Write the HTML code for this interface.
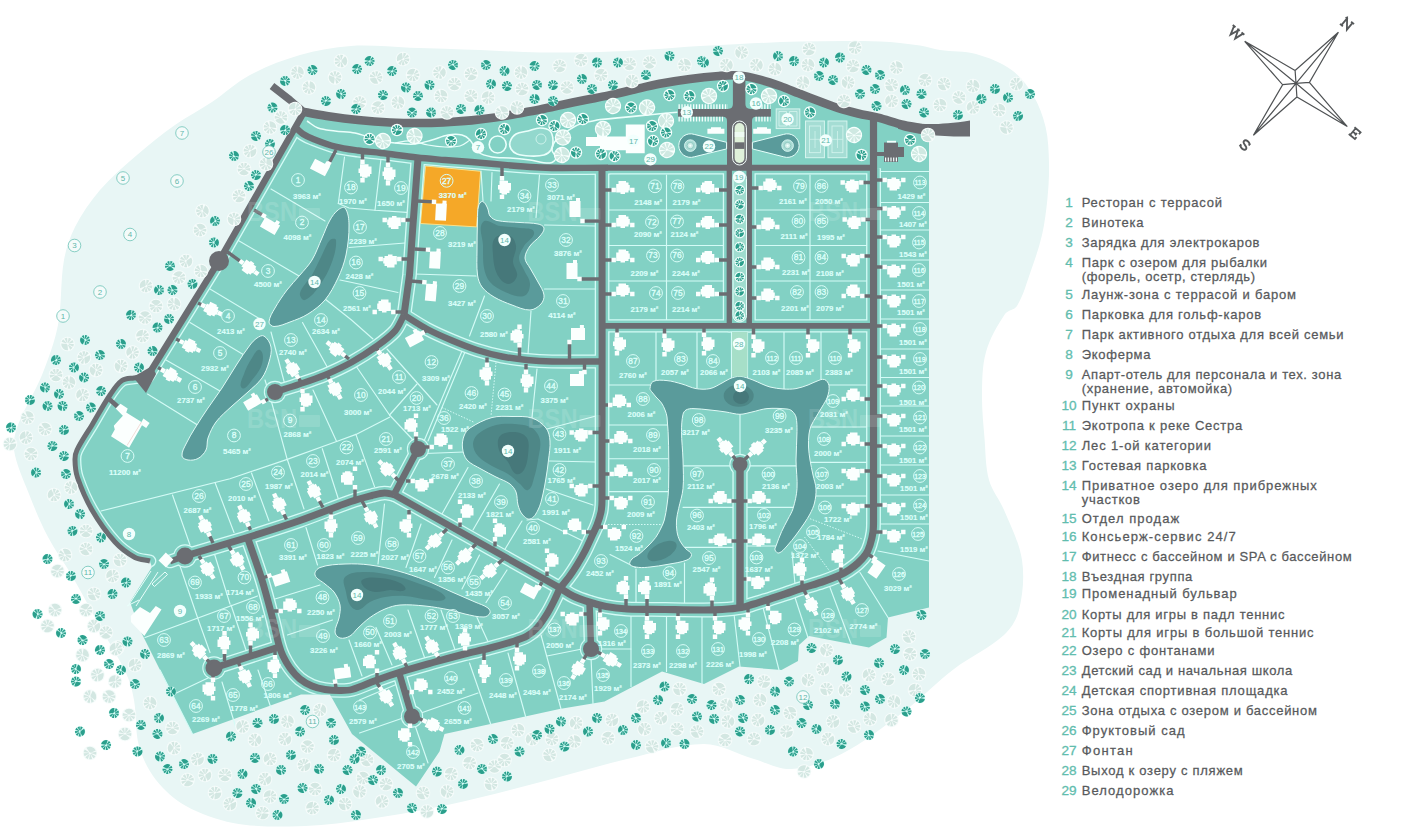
<!DOCTYPE html><html><head><meta charset="utf-8"><title>Map</title><style>html,body{margin:0;padding:0;background:#fff}svg{display:block}text{font-family:"Liberation Sans",sans-serif}</style></head><body>
<svg width="1410" height="839" viewBox="0 0 1410 839">
<rect width="1410" height="839" fill="#fff"/>
<path d="M351 46 C333.9 47.1 316.4 50.3 300 55 C282.9 59.9 265.7 66.6 250 75 C236.4 82.2 224.8 93.5 212 102 C200 110 186.7 116.7 175 125 C162 134.2 149.1 144.5 137 155 C124.3 166 111 177.3 100 190 C90.4 201.2 81.7 213.9 75 227 C69.8 237.2 66 248.7 64 260 C60.3 281.2 62 303.8 58 325 C54.7 342 48.4 358.9 42 375 C35.2 392 24.4 407.9 18 425 C15.1 432.8 12.7 441.7 14 450 C16.4 465.1 23.4 479.7 29 494 C34.6 508.4 40.8 523.3 48 537 C54.9 550.1 64.1 562.3 71.5 575 C81.3 591.8 90.6 609.5 100 626.5 C108.5 641.9 118.6 657 126 673 C129.9 681.4 132.4 690.9 134 700 C136.7 715 135 731.3 139 746 C142.3 758.1 148.3 770.1 156 780 C164.1 790.3 174.6 799.6 186 806 C200.4 814 216.8 819.8 233 823 C251.5 826.6 271.2 826.7 290 826.5 C310.5 826.2 331.7 824.3 352 821.5 C385.2 816.9 419.2 811 452 804 C485.3 796.9 519.1 787.5 552 779 C576.8 772.6 602 764.7 627 759 C652.2 753.2 678.1 744 704 744 C721.2 744 737.4 754.3 754 759 C766.3 762.5 778.7 769.7 791.5 769 C808.7 768 826.2 761.8 841.5 754 C863.7 742.6 884.1 726.5 904 711.5 C921.3 698.4 936.8 682.2 954 669 C969.8 656.9 989.2 648.4 1004 635 C1011.1 628.5 1016.8 619.4 1019 610 C1022.9 593.9 1024.5 576.3 1022 560 C1019.4 542.7 1010.7 526.2 1004 510 C999.8 499.8 991.9 490.7 989 480 C985.4 466.5 985.6 451.9 984.5 438 C983.3 423.8 981.8 409.2 982 395 C982.2 380.8 982.1 365.7 986 352 C989.8 338.5 997.2 325.6 1005 314 C1007.7 310.1 1014.6 310.1 1017 306 C1023.5 295.2 1026.8 282.4 1031 270.5 C1035.1 258.9 1039.3 247 1042 235 C1044.7 223.3 1046.2 211 1047.4 199 C1048.6 187.2 1049.3 174.9 1049 163 C1048.7 151.1 1048.3 138.6 1045.6 127 C1043 116 1038.8 104.7 1033 95 C1027.4 85.7 1020.4 76.3 1011.6 70 C1001.1 62.5 988.4 57.5 976 54 C964.5 50.8 951.8 51.8 940 50 C933.3 49 926.7 46.4 920 45.5 C906.9 43.6 893.3 41.9 880 41.5 C853.6 40.6 826.4 41 800 41.5 C780.2 41.9 759.8 43.1 740 44 C726.8 44.6 713.2 45.2 700 46 C683.5 47 666.5 48.5 650 49.5 C633.5 50.5 616.5 51.5 600 52 C580.2 52.5 559.8 52.8 540 52.5 C520.2 52.2 499.8 50.7 480 50 C456.9 49.1 433.1 48.4 410 47.7 C390.5 47.1 370.4 44.7 351 46Z" fill="#e8f6f5"/>
<path d="M304 112 L330 116.5 L358 120 L390 122.5 L426 123 L450 122 L471.6 120.4 L495 117.5 L517 113.8 L540 109.5 L562.4 104.7 L585 100 L607.8 95.6 L630 90.5 L659.6 83.8 L690 79 L719 76 L739 75.5 L758.9 79.4 L780 86 L798.6 93.3 L820 101.5 L838.3 108.2 L858 113.5 L878 117.6 L904 125 L929 129.5 L929 607.5 L888 617.5 L886.5 637.5 L869 647.5 L809 636 L799 645 L798 661 L781.5 670 L739 666.5 L704 684 L662 671.5 L604.5 701.5 L559.5 709 L444.5 734 L439.5 751.5 L416 786.5 L352 734 L330 694.5 L301 694.5 L192.5 734 L160 670 L141 632 L130 602 L152 567 L150 561 C145.1 559.8 139.5 559.9 135 557.5 C127.7 553.5 120.6 548.2 115 542 C106.3 532.4 98.5 521.2 92 510 C86.1 499.8 81.3 488.6 77.5 477.5 C75.6 472 75.1 465.8 75 460 C74.9 456.6 75.5 453 77 450 C81.2 441.3 87 433.2 92 425 C97.9 415.1 103.5 404.6 110 395 C113.5 389.8 116.9 384.1 122 380.5 C125.3 378.2 130 378.6 134 378 C138.3 377.4 142.7 377.3 147 377 L219 261 L304 112Z" fill="#82d1c4"/>
<path d="M425.5 166 L480.6 171.3 L476.6 226.9 L420.5 223.5Z" fill="#f5a828" stroke="#fbe08a" stroke-width="1"/>
<defs><clipPath id="cp"><path d="M296 128 L303 134 L312.7 138.8 L335.4 146.7 L358 150.5 L380.8 153 L417 157.5 L445 160 L471.6 162 L517 166 L540 167.5 L562.4 168 L607.8 167.7 L873.5 168.3 L929 168.3 L929 607.5 L888 617.5 L886.5 637.5 L869 647.5 L809 636 L799 645 L798 661 L781.5 670 L739 666.5 L704 684 L662 671.5 L604.5 701.5 L559.5 709 L444.5 734 L439.5 751.5 L416 786.5 L352 734 L330 694.5 L301 694.5 L192.5 734 L160 670 L141 632 L130 602 L152 567 L150 561 C145.1 559.8 139.5 559.9 135 557.5 C127.7 553.5 120.6 548.2 115 542 C106.3 532.4 98.5 521.2 92 510 C86.1 499.8 81.3 488.6 77.5 477.5 C75.6 472 75.1 465.8 75 460 C74.9 456.6 75.5 453 77 450 C81.2 441.3 87 433.2 92 425 C97.9 415.1 103.5 404.6 110 395 C113.5 389.8 116.9 384.1 122 380.5 C125.3 378.2 130 378.6 134 378 C138.3 377.4 142.7 377.3 147 377 L219 261Z"/></clipPath></defs><g fill="none" stroke="#d4fbf6" stroke-width="1.15" stroke-linecap="round"><path d="M271 189 L325 221"/><path d="M237.5 240 L299 276"/><path d="M344.5 157 L338.3 203.5"/><path d="M380.8 160.4 L375 210.3"/><path d="M338.3 203.5 L349 208 L375 210.3 L410.3 212.6"/><path d="M349 247.5 L405 243"/><path d="M340 280 L352 282.5 L398 292.5"/><path d="M325 299 L351.5 320 L373 339"/><path d="M210 289 L260 319"/><path d="M190 322.5 L244 355"/><path d="M166 360 L220 391"/><path d="M147.5 394 L197.5 425 L205 433"/><path d="M302.5 322.5 L327.5 367.5"/><path d="M271 332 L285 385"/><path d="M265 380 L271 400 L287.2 459.4"/><path d="M313 390 L336.6 441.5"/><path d="M101 511 L230 478.7 L287.2 459.4 L336.6 441.5 L356 434.4 L389.5 417.2"/><path d="M172.5 495 L190 545"/><path d="M215 482.5 L234 532.5"/><path d="M251.5 473 L269 521"/><path d="M287.5 460 L304 509"/><path d="M322.3 448.7 L338.7 500"/><path d="M357 367.5 L389.5 415"/><path d="M387 349 L437 405"/><path d="M417 384 L389.5 415"/><path d="M389.5 415 L413 440"/><path d="M355.9 434.4 L374.5 486.6"/><path d="M425 453.5 L464 452"/><path d="M462 351 L424.5 440"/><path d="M465 352 L428 441"/><path d="M537 369 L532 417.5"/><path d="M547 429 L596 416"/><path d="M492 172.5 L491 201"/><path d="M539.5 175 L536 217.5"/><path d="M544.5 225 L596 226"/><path d="M414.5 274 L476 276"/><path d="M484.5 296 L469.5 336"/><path d="M531 311 L528 354"/><path d="M544.5 289 L596 289"/><path d="M481 171 L483 201"/><path d="M666.5 175 L666.5 320"/><path d="M608 210 L725 210"/><path d="M608 245.5 L725 245.5"/><path d="M608 281 L725 281"/><path d="M810 175 L810 320"/><path d="M752.5 210 L868 210"/><path d="M752.5 245.5 L868 245.5"/><path d="M752.5 281 L868 281"/><path d="M878 171.5 L929 171.5"/><path d="M878 202.5 L929 202.5"/><path d="M878 230 L929 230"/><path d="M878 260 L929 260"/><path d="M878 290 L929 290"/><path d="M878 319 L929 319"/><path d="M878 349 L929 349"/><path d="M878 377.5 L929 377.5"/><path d="M878 406 L929 406"/><path d="M878 436 L929 436"/><path d="M878 465 L929 465"/><path d="M878 495 L929 495"/><path d="M878 524 L929 524"/><path d="M878 551 L929 561"/><path d="M656 332 L656 385"/><path d="M697 332 L697 388"/><path d="M731.5 332 L731.5 380"/><path d="M747.5 332 L747.5 380"/><path d="M784 332 L784 389"/><path d="M821 332 L821 383"/><path d="M608 385 L652 385"/><path d="M608 425 L668 425"/><path d="M608 458.7 L668 458.7"/><path d="M608 491.6 L668 491.6"/><path d="M828 385 L868 385"/><path d="M812 427 L868 427"/><path d="M810 462.4 L868 462.4"/><path d="M816 496 L868 496"/><path d="M683 465.8 L733 465.8"/><path d="M683 507.3 L735 507.3"/><path d="M685 547.3 L735 547.3"/><path d="M746 465.8 L796 465.8"/><path d="M746 507.3 L793 507.3"/><path d="M746 546 L776 546"/><path d="M740 414 L740 456"/><path d="M610 554.5 L635.7 567.4"/><path d="M636 569 L636 603"/><path d="M684.5 563 L684.5 603"/><path d="M792 552 L796 595"/><path d="M468 467.5 L442 514"/><path d="M499.5 484 L473 530"/><path d="M522 521 L504.5 550"/><path d="M538 519 L583 541"/><path d="M546 489 L593 505"/><path d="M549.5 461 L596 462"/><path d="M527 520 L538 519"/><path d="M384.5 504 L378 564"/><path d="M421 524 L406 567.5"/><path d="M452 540 L434.5 577.5"/><path d="M479.5 555 L462 589"/><path d="M507 570 L486 602.5"/><path d="M306 527.5 L317.5 565"/><path d="M275 599 L320 585"/><path d="M287.5 635 L332.5 620"/><path d="M376 627.5 L392 665"/><path d="M408 610 L424.5 657.5"/><path d="M441 610 L456 652.5"/><path d="M477 617.5 L489.5 645"/><path d="M349 640 L362 676"/><path d="M214 552.5 L230 604"/><path d="M180 566 L197.5 617.5 L210 652.5"/><path d="M145 637.5 L257.5 596"/><path d="M231 605 L246 650"/><path d="M192.5 734 L160 670"/><path d="M170 696 L208 678"/><path d="M222 682 L236 728"/><path d="M258 670 L271 708"/><path d="M402 682 L359.5 700"/><path d="M421 713 L478 693"/><path d="M469.5 663 L491 725"/><path d="M508 653 L526 718"/><path d="M541 635 L561 709"/><path d="M591 656.5 L593 704"/><path d="M359.5 733 L403 718"/><path d="M414.5 724 L428 763"/><path d="M547 656 L582 649"/><path d="M599.5 649 L631 649"/><path d="M631 615 L631 686.5"/><path d="M666.5 615 L666.5 671.5"/><path d="M702 615 L702 684"/><path d="M734 614 L740 666.5"/><path d="M763 607.5 L779 670"/><path d="M795 597.5 L808 637.5"/><path d="M830 587.5 L851.5 645"/><path d="M860 572.5 L888 617.5"/></g><g fill="none" stroke="#d4fbf6" stroke-width="1" stroke-dasharray="1.5 1.5"><path d="M496 362.5 L491 416"/><path d="M442 407.5 L474.5 422.5"/><path d="M608 524.5 L664 524.5"/><path d="M810 518.7 L861.7 538.8"/><path d="M804.5 537 L830 571.6"/></g><g clip-path="url(#cp)" fill="none" stroke-linejoin="round" stroke-linecap="round"><g stroke="#d4fbf6"><path d="M304 112 L219 261 L147 377" stroke-width="14.2"/><path d="M147 377 C142.7 377.3 138.3 377.4 134 378 C130 378.6 125.3 378.2 122 380.5 C116.9 384.1 113.5 389.8 110 395 C103.5 404.6 97.9 415.1 92 425 C87 433.2 81.2 441.3 77 450 C75.5 453 74.9 456.6 75 460 C75.1 465.8 75.6 472 77.5 477.5 C81.3 488.6 86.1 499.8 92 510 C98.5 521.2 106.3 532.4 115 542 C120.6 548.2 127.7 553.5 135 557.5 C139.5 559.9 145.1 559.8 150 561" stroke-width="12.7"/><path d="M296 128 C298.3 130 300.4 132.3 303 134 C306 135.9 309.4 137.5 312.7 138.8 C320.1 141.7 327.7 144.7 335.4 146.7 C342.7 148.6 350.5 149.5 358 150.5 C365.5 151.5 373.3 152.1 380.8 153 C392.8 154.4 405 156.2 417 157.5 C426.2 158.5 435.8 159.2 445 160 C453.8 160.7 462.8 161.3 471.6 162 C486.6 163.2 502 164.8 517 166 C524.6 166.6 532.4 167.2 540 167.5 C547.4 167.8 555 168 562.4 168 C577.4 168 592.8 167.8 607.8 167.7" stroke-width="14.1"/><path d="M607 167.7 L873.5 167.7" stroke-width="13.6"/><path d="M418 158 L412.6 230 L409.5 275 L404 315" stroke-width="14.7"/><path d="M404 315 C411.6 319.6 419.2 324.8 427 329 C435 333.3 443.6 337 452 340.5 C460.1 343.9 468.6 347.3 477 350 C485.1 352.6 493.6 354.8 502 356.5 C510.2 358.1 518.7 359.2 527 360 C535.2 360.8 543.7 361.3 552 361.5 C568.5 361.8 585.5 361.5 602 361.5" stroke-width="14.1"/><path d="M404 315 C401 320.3 399 326.4 395 331 C389.9 336.8 383.3 341.5 377 346 C369.1 351.7 360.6 357.2 352 362 C343.4 366.8 334.1 371.1 325 375 C316.9 378.4 308.3 381.2 300 384 C291.8 386.8 283.2 389.4 275 392" stroke-width="14.2"/><path d="M602 168 C602 277.6 602.3 390.4 602 500 C602 504 601.8 508.1 601 512 C600.1 516.4 598.6 520.8 597 525 C595.6 528.7 593.7 532.4 592 536 C589.7 541 587.5 546.1 585 551 C582.6 555.7 579.8 560.5 577 565 C574.5 569.1 571.8 573.2 569 577 C566.2 580.8 563 584.4 560 588" stroke-width="14.7"/><path d="M602 325.9 L873.5 325.9" stroke-width="13.4"/><path d="M873.5 114 C873.5 248 873.7 386 873.5 520 C873.5 524 873.5 528.1 873 532 C872.4 536.4 871.3 540.8 870 545 C869 548.1 867.8 551.3 866 554 C863.8 557.3 860.9 560.3 858 563 C855.3 565.6 852.1 567.9 849 570 C845.9 572.1 842.4 574 839 575.5 C833.5 577.9 827.7 580.1 822 582 C816.1 584 809.9 585.6 804 587.5 C797.7 589.5 791.3 591.9 785 594 C778.9 596 772.6 598.1 766.5 600 C761.7 601.5 756.8 603.1 752 604.5 C748.5 605.5 745.1 606.9 741.5 607.5 C735.1 608.6 728.5 609.1 722 609.5 C716.1 609.9 709.9 610 704 610 C691.1 610 677.9 609.7 665 609.5 C652.5 609.3 639.5 609.6 627 609 C620 608.6 612.9 607.8 606 606.5 C600.3 605.4 594.5 603.8 589 602 C583.6 600.3 578.1 598.5 573 596 C568.5 593.8 564.3 590.6 560 588" stroke-width="14.9"/><path d="M729.3 168 L729.3 326" stroke-width="13"/><path d="M749.2 168 L749.2 326" stroke-width="13.2"/><path d="M740 465 L740 607" stroke-width="15.2"/><path d="M394 494.5 L560 588" stroke-width="14.3"/><path d="M185 556 C205.6 549.9 226.9 543.8 247.5 537.5 C264.9 532.1 282.8 526.5 300 520.5 C317 514.6 334 507.4 351 501.5 C357.8 499.1 365 497.3 372 495.5 C376.1 494.5 380.3 493.2 384.5 493 C387.7 492.9 390.9 494 394 494.5" stroke-width="14.7"/><path d="M185 556 L170 561.5" stroke-width="13.7"/><path d="M418 449 L394 494.5" stroke-width="14.2"/><path d="M247.5 537.5 C252.3 551.5 257.6 565.8 262 580 C266 593.1 269.5 606.8 273 620 C275.1 628.2 276.7 636.8 279 645 C280 648.7 281.3 652.5 283 656 C285 660.1 287.3 664.3 290 668 C292.9 671.9 296.2 675.9 300 679 C303.5 681.9 307.8 684.2 312 686 C316.1 687.7 320.6 688.8 325 689.5 C329.9 690.3 335 690.5 340 690.5 C344 690.5 348.2 690.6 352 689.5 C360.5 687.1 368.7 683 377 680 C385.2 677 393.7 674.1 402 671.5 C412.2 668.3 422.7 665.4 433 662.5 C443.4 659.6 454.1 656.7 464.5 654 C472.9 651.9 481.6 650.2 490 648 C498.1 645.9 506.5 643.6 514.5 641 C518.7 639.6 523.2 638.2 527 636 C530.7 633.9 534.2 631.1 537 628 C540.8 623.8 544 618.8 547 614 C549.6 609.9 551.8 605.4 554 601 C556.1 596.8 558 592.3 560 588" stroke-width="14.7"/><path d="M214 668 L279 647" stroke-width="14.7"/><path d="M399.5 674 L412 716.5" stroke-width="14.2"/><path d="M589.5 602 L591 649" stroke-width="14.2"/><circle cx="275" cy="392" r="11.2" fill="#d4fbf6" stroke="none"/><circle cx="418" cy="449" r="11.2" fill="#d4fbf6" stroke="none"/><circle cx="185" cy="556" r="11.7" fill="#d4fbf6" stroke="none"/><circle cx="214" cy="668" r="11.7" fill="#d4fbf6" stroke="none"/><circle cx="412" cy="716.5" r="11.2" fill="#d4fbf6" stroke="none"/><circle cx="591" cy="649" r="11.2" fill="#d4fbf6" stroke="none"/><circle cx="740" cy="464.5" r="10.7" fill="#d4fbf6" stroke="none"/></g><g stroke="#82d1c4"><path d="M304 112 L219 261 L147 377" stroke-width="11.6"/><path d="M147 377 C142.7 377.3 138.3 377.4 134 378 C130 378.6 125.3 378.2 122 380.5 C116.9 384.1 113.5 389.8 110 395 C103.5 404.6 97.9 415.1 92 425 C87 433.2 81.2 441.3 77 450 C75.5 453 74.9 456.6 75 460 C75.1 465.8 75.6 472 77.5 477.5 C81.3 488.6 86.1 499.8 92 510 C98.5 521.2 106.3 532.4 115 542 C120.6 548.2 127.7 553.5 135 557.5 C139.5 559.9 145.1 559.8 150 561" stroke-width="10.1"/><path d="M296 128 C298.3 130 300.4 132.3 303 134 C306 135.9 309.4 137.5 312.7 138.8 C320.1 141.7 327.7 144.7 335.4 146.7 C342.7 148.6 350.5 149.5 358 150.5 C365.5 151.5 373.3 152.1 380.8 153 C392.8 154.4 405 156.2 417 157.5 C426.2 158.5 435.8 159.2 445 160 C453.8 160.7 462.8 161.3 471.6 162 C486.6 163.2 502 164.8 517 166 C524.6 166.6 532.4 167.2 540 167.5 C547.4 167.8 555 168 562.4 168 C577.4 168 592.8 167.8 607.8 167.7" stroke-width="11.5"/><path d="M607 167.7 L873.5 167.7" stroke-width="11"/><path d="M418 158 L412.6 230 L409.5 275 L404 315" stroke-width="12.1"/><path d="M404 315 C411.6 319.6 419.2 324.8 427 329 C435 333.3 443.6 337 452 340.5 C460.1 343.9 468.6 347.3 477 350 C485.1 352.6 493.6 354.8 502 356.5 C510.2 358.1 518.7 359.2 527 360 C535.2 360.8 543.7 361.3 552 361.5 C568.5 361.8 585.5 361.5 602 361.5" stroke-width="11.5"/><path d="M404 315 C401 320.3 399 326.4 395 331 C389.9 336.8 383.3 341.5 377 346 C369.1 351.7 360.6 357.2 352 362 C343.4 366.8 334.1 371.1 325 375 C316.9 378.4 308.3 381.2 300 384 C291.8 386.8 283.2 389.4 275 392" stroke-width="11.6"/><path d="M602 168 C602 277.6 602.3 390.4 602 500 C602 504 601.8 508.1 601 512 C600.1 516.4 598.6 520.8 597 525 C595.6 528.7 593.7 532.4 592 536 C589.7 541 587.5 546.1 585 551 C582.6 555.7 579.8 560.5 577 565 C574.5 569.1 571.8 573.2 569 577 C566.2 580.8 563 584.4 560 588" stroke-width="12.1"/><path d="M602 325.9 L873.5 325.9" stroke-width="10.8"/><path d="M873.5 114 C873.5 248 873.7 386 873.5 520 C873.5 524 873.5 528.1 873 532 C872.4 536.4 871.3 540.8 870 545 C869 548.1 867.8 551.3 866 554 C863.8 557.3 860.9 560.3 858 563 C855.3 565.6 852.1 567.9 849 570 C845.9 572.1 842.4 574 839 575.5 C833.5 577.9 827.7 580.1 822 582 C816.1 584 809.9 585.6 804 587.5 C797.7 589.5 791.3 591.9 785 594 C778.9 596 772.6 598.1 766.5 600 C761.7 601.5 756.8 603.1 752 604.5 C748.5 605.5 745.1 606.9 741.5 607.5 C735.1 608.6 728.5 609.1 722 609.5 C716.1 609.9 709.9 610 704 610 C691.1 610 677.9 609.7 665 609.5 C652.5 609.3 639.5 609.6 627 609 C620 608.6 612.9 607.8 606 606.5 C600.3 605.4 594.5 603.8 589 602 C583.6 600.3 578.1 598.5 573 596 C568.5 593.8 564.3 590.6 560 588" stroke-width="12.3"/><path d="M729.3 168 L729.3 326" stroke-width="10.4"/><path d="M749.2 168 L749.2 326" stroke-width="10.6"/><path d="M740 465 L740 607" stroke-width="12.6"/><path d="M394 494.5 L560 588" stroke-width="11.7"/><path d="M185 556 C205.6 549.9 226.9 543.8 247.5 537.5 C264.9 532.1 282.8 526.5 300 520.5 C317 514.6 334 507.4 351 501.5 C357.8 499.1 365 497.3 372 495.5 C376.1 494.5 380.3 493.2 384.5 493 C387.7 492.9 390.9 494 394 494.5" stroke-width="12.1"/><path d="M185 556 L170 561.5" stroke-width="11.1"/><path d="M418 449 L394 494.5" stroke-width="11.6"/><path d="M247.5 537.5 C252.3 551.5 257.6 565.8 262 580 C266 593.1 269.5 606.8 273 620 C275.1 628.2 276.7 636.8 279 645 C280 648.7 281.3 652.5 283 656 C285 660.1 287.3 664.3 290 668 C292.9 671.9 296.2 675.9 300 679 C303.5 681.9 307.8 684.2 312 686 C316.1 687.7 320.6 688.8 325 689.5 C329.9 690.3 335 690.5 340 690.5 C344 690.5 348.2 690.6 352 689.5 C360.5 687.1 368.7 683 377 680 C385.2 677 393.7 674.1 402 671.5 C412.2 668.3 422.7 665.4 433 662.5 C443.4 659.6 454.1 656.7 464.5 654 C472.9 651.9 481.6 650.2 490 648 C498.1 645.9 506.5 643.6 514.5 641 C518.7 639.6 523.2 638.2 527 636 C530.7 633.9 534.2 631.1 537 628 C540.8 623.8 544 618.8 547 614 C549.6 609.9 551.8 605.4 554 601 C556.1 596.8 558 592.3 560 588" stroke-width="12.1"/><path d="M214 668 L279 647" stroke-width="12.1"/><path d="M399.5 674 L412 716.5" stroke-width="11.6"/><path d="M589.5 602 L591 649" stroke-width="11.6"/><circle cx="275" cy="392" r="10.1" fill="#82d1c4" stroke="none"/><circle cx="418" cy="449" r="10.1" fill="#82d1c4" stroke="none"/><circle cx="185" cy="556" r="10.6" fill="#82d1c4" stroke="none"/><circle cx="214" cy="668" r="10.6" fill="#82d1c4" stroke="none"/><circle cx="412" cy="716.5" r="10.1" fill="#82d1c4" stroke="none"/><circle cx="591" cy="649" r="10.1" fill="#82d1c4" stroke="none"/><circle cx="740" cy="464.5" r="9.6" fill="#82d1c4" stroke="none"/></g></g>
<path d="M345 208 C348.4 212.6 348.9 219.2 349 225 C349.2 234.9 348 245.3 346 255 C344.4 262.9 341.4 270.7 338 278 C334.4 285.6 330.4 293.5 325 300 C320.3 305.6 314.2 310.1 308 314 C302.5 317.5 296.1 319.8 290 322 C284.9 323.9 279.5 326.5 274 326.5 C271.8 326.5 268.9 324.2 269 322 C269.3 317 272.5 312.4 275 308 C278.5 301.8 282.7 295.7 287 290 C291 284.8 295.8 280 300 275 C304.1 270.1 308.8 265.4 312 260 C316.1 253.1 318.7 245.3 322 238 C324.7 232.1 326.8 225.6 330 220 C332.1 216.3 334.7 212.6 338 210 C339.9 208.5 343.6 206.1 345 208Z" fill="#5a9b9b" stroke="#dffaf6" stroke-width="1"/><path d="M336 240 C336.7 247.3 334.5 255 332 262 C329.1 270.1 325 278 320 285 C315.9 290.7 311.5 297.4 305 300 C302.4 301.1 299.2 295.7 300 293 C301.9 286.1 308.4 281.2 312 275 C315.7 268.6 318.6 261.6 322 255 C324.6 250 326.2 244.1 330 240 C331.4 238.6 335.8 238 336 240Z" fill="#4e8787"/><path d="M264 336 C267.6 338.3 270.2 342.8 271 347 C271.9 351.9 270.4 357.2 269 362 C267.4 367.5 265.3 373.3 262 378 C258.3 383.4 252.8 387.5 248 392 C242.9 396.8 237.1 401.2 232 406 C226.6 411.1 220.5 416 216 422 C212.5 426.7 210 432.4 208 438 C206.6 441.8 207.8 446.4 206 450 C204.3 453.5 201.4 456.6 198 458.5 C195.1 460.1 191.3 460.5 188 460 C185.6 459.6 182.3 458.4 182 456 C181.5 451.9 184.2 447.8 186 444 C188.6 438.5 191.8 433.2 195 428 C199.1 421.3 203.6 414.5 208 408 C212.5 401.3 217.6 394.7 222 388 C227.1 380.2 231.9 371.8 237 364 C241.1 357.6 245.4 351 250 345 C252 342.4 254.3 339.8 257 338 C259 336.7 262 334.7 264 336Z" fill="#5a9b9b" stroke="#dffaf6" stroke-width="1"/><path d="M260 350 C264 352.4 263.2 359.5 262 364 C260.4 370 256 375.2 252 380 C249.3 383.2 245.4 390.5 242 388 C238.3 385.2 242.5 378.4 244 374 C245.9 368.4 248.7 362.9 252 358 C254.1 354.9 256.8 348.1 260 350Z" fill="#4e8787"/><path d="M482.5 201.5 C485.1 202.1 486.3 205.6 487.5 208 C488.8 210.5 488.3 213.8 490 216 C491.7 218.2 494.3 219.9 497 220.5 C504.4 222.1 512.4 221.9 520 222.5 C525.9 223 532.2 222.7 538 224 C540.3 224.5 543.6 225.7 544 228 C544.5 230.9 541.8 233.7 540 236 C537.1 239.7 532.6 242.1 530 246 C527.6 249.5 525 253.7 525 258 C525 261.7 528.2 264.8 530 268 C532.5 272.7 535.6 277.3 538 282 C540.2 286.2 543.4 290.3 544 295 C544.4 298.1 543.1 301.7 541 304 C538.2 307 534.1 309.9 530 310 C523.8 310.2 517.8 307.1 512 305 C505.9 302.8 499.6 300.3 494 297 C489.6 294.3 485.1 291.1 482 287 C479.5 283.6 478.1 279.2 477.5 275 C476.4 266.8 477 258.3 477 250 C477 240.1 477.2 229.9 477.5 220 C477.7 215.4 477.3 210.5 478.5 206 C479 204.1 480.6 201.1 482.5 201.5Z" fill="#5a9b9b" stroke="#dffaf6" stroke-width="1"/><path d="M483 222 C486.8 217.7 494.3 225.1 500 226 C506.5 227.1 513.5 226.8 520 228 C524.7 228.8 533 227.3 534 232 C535.2 237.5 526.8 241.1 524 246 C521.9 249.7 519 253.7 519 258 C519 262.3 522.3 266 524 270 C526 274.6 530 279 530 284 C530 288.4 528.2 294.7 524 296 C517.9 298 510.9 294.4 505 292 C499.5 289.7 493.9 286.5 490 282 C486.7 278.2 484.9 272.9 484 268 C482.6 260.5 483.2 252.6 483 245 C482.8 237.4 477.9 227.7 483 222Z" fill="#4e8787"/><path d="M495 238 C498.3 234.3 505.3 234.2 510 236 C513.6 237.4 515.6 242.2 516 246 C516.6 251.3 512.8 256.6 513 262 C513.2 266.8 518.1 271.3 517 276 C516.1 279.9 512 284.4 508 284 C503.1 283.5 499.3 278.4 497 274 C494.1 268.3 493.4 261.4 493 255 C492.7 249.4 491.2 242.2 495 238Z" fill="#46787a"/><path d="M470 428 C476.7 423.6 484.2 419.6 492 417.5 C498.4 415.8 505.4 416.4 512 416.5 C518.6 416.6 525.7 415.9 532 418 C537.4 419.8 542.5 423.5 546 428 C548.8 431.5 549.7 436.5 550 441 C550.5 447.3 549.2 453.7 548.5 460 C547.9 466 547 472.1 546 478 C545.1 483.3 544.3 488.8 543 494 C541.7 499.4 540.6 505.1 538 510 C536.2 513.5 533.9 518 530 519 C527 519.8 524 516.4 522 514 C519.9 511.5 518.9 508.1 518 505 C516.9 500.8 517.5 496.1 516 492 C514.8 488.9 512.6 486 510 484 C505.9 480.9 500.6 479.4 496 477 C491 474.4 485.8 471.8 481 469 C476.3 466.2 470.6 464.1 467 460 C464.2 456.8 463 452.2 462.5 448 C462 444 462.6 439.7 464 436 C465.2 432.9 467.2 429.8 470 428Z" fill="#5a9b9b" stroke="#dffaf6" stroke-width="1"/><path d="M478 434 C483.1 429.8 489.6 426.7 496 425 C502.1 423.4 508.7 423.5 515 424 C520.7 424.5 527.1 424.9 532 428 C536 430.6 539.1 435.3 540 440 C541.2 446.5 539 453.4 538 460 C537.1 466 535.9 472.2 534 478 C532.6 482.2 532.1 488.3 528 490 C525 491.3 522.6 486.1 520 484 C516 480.8 512.3 476.8 508 474 C503 470.8 497.1 469 492 466 C487.1 463.1 481.7 460.3 478 456 C475.2 452.8 473 448.3 473 444 C473 440.3 475.2 436.3 478 434Z" fill="#4e8787"/><path d="M500 436 C503.4 432.2 509.9 431.6 515 432 C519.4 432.3 524.8 434.1 527 438 C529.8 442.9 528.5 449.4 528 455 C527.5 460.1 526.7 465.7 524 470 C522.4 472.5 518.6 475.3 516 474 C511.7 471.9 510.8 465.9 508 462 C505.1 458 500.5 454.7 499 450 C497.6 445.6 496.9 439.5 500 436Z" fill="#46787a"/><path d="M315 575 C314.1 572.2 317.2 568.5 320 567.5 C327.8 564.6 336.7 564.4 345 564 C353.2 563.6 361.8 563.9 370 565 C379.4 566.2 388.9 568.5 398 571 C407.1 573.5 416.2 576.6 425 580 C434.1 583.5 443.1 588.1 452 592 C459.6 595.3 467.4 598.6 475 602 C479.3 603.9 484.2 605.2 488 608 C489.4 609.1 490.7 611.4 490 613 C489 615.2 486.4 616.9 484 617 C477.7 617.3 471.2 615.3 465 614 C460 613 455 611 450 610 C441.8 608.4 433.3 606.8 425 606 C416.8 605.2 408.2 604.4 400 605 C394.9 605.4 389.7 607 385 609 C379.7 611.2 374.7 614.2 370 617.5 C365.7 620.5 361.9 624.4 358 628 C355.3 630.5 353.3 634.2 350 636 C347.1 637.6 343.3 638.9 340 638 C337.5 637.3 335.1 634.6 335 632 C334.8 627.2 338.1 622.7 339 618 C339.8 613.8 340.8 609.2 340 605 C339.1 600.4 336.7 595.8 334 592 C331.7 588.8 328 586.6 325 584 C321.7 581 316.3 579.2 315 575Z" fill="#5a9b9b" stroke="#dffaf6" stroke-width="1"/><path d="M345 577 C349.7 572.1 358.2 572.1 365 572 C375 571.8 385.2 573.9 395 576 C403.5 577.8 411.8 581.1 420 584 C426.7 586.4 433.9 588.3 440 592 C442.4 593.5 447.2 597.2 445 599 C441.1 602.1 434.9 600.4 430 600 C421.7 599.4 413.3 596.6 405 596 C398.4 595.6 391.5 595.9 385 597 C379.9 597.9 374.7 599.7 370 602 C365.7 604.1 362.7 609.3 358 610 C354.9 610.5 351.7 607.6 350 605 C347.5 601.3 346.8 596.4 346 592 C345.1 587.1 341.6 580.6 345 577Z" fill="#4e8787"/><path d="M362 580 C367 576.7 374 577.5 380 578 C386.8 578.5 393.9 580.1 400 583 C402.6 584.2 407.3 588.4 405 590 C400.9 592.8 394.9 589.7 390 590 C385 590.3 380 592.4 375 592 C371.5 591.7 367.6 590.4 365 588 C362.9 586.1 359.7 581.6 362 580Z" fill="#46787a"/><path d="M650 388.6 C650.4 386.1 650.7 382.6 653 381.5 C657.2 379.5 662.4 380.2 667 380.6 C672.1 381 677.1 382.7 682 384 C686.7 385.3 691.2 387.8 696 388.6 C700.6 389.3 705.5 389.6 710 388.6 C714.3 387.7 718.1 385 722 383 C724.7 381.7 727.2 379.7 730 378.6 C733.2 377.4 736.6 376.1 740 376.3 C744.5 376.6 748.8 378.5 753 380 C756.1 381.1 759 382.8 762 384 C764.6 385.1 767.3 386.3 770 387 C774.2 388 778.7 388.7 783 389 C787.3 389.3 791.8 389.3 796 388.6 C800.1 387.9 804.1 386.4 808 385 C810.7 384 813.3 382.4 816 381.5 C818.7 380.6 821.8 378.6 824.5 379.5 C826.9 380.3 828.6 383.2 829 385.7 C829.6 389.4 828.6 393.4 827.4 397 C826.2 400.6 823.9 403.7 822 407 C820.1 410.3 817.9 413.7 816 417 C814.3 419.9 812.3 422.9 811 426 C810 428.5 809.3 431.3 809 434 C808.5 438.3 808.3 442.7 808.5 447 C808.7 451.3 809.3 455.7 810 460 C810.8 465 812 470.1 813 475 C813.9 479.5 815.8 484.1 816 488.7 C816.3 493.4 815.6 498.4 814.5 503 C813.6 506.8 811.8 510.5 810 514 C808.4 517.1 806.4 520.1 804.5 523 C801.8 527 798.9 531.1 796 535 C793.2 538.7 790.2 542.6 787 546 C784.6 548.6 782.3 551.9 779 553 C777.4 553.5 775.6 551.5 775 550 C774.5 548.7 775.5 547.3 776 546 C777.7 541.2 779.5 536.3 781.6 531.6 C783.5 527.3 785.9 523.2 788 519 C789.7 515.6 791.9 512.3 793 508.7 C794.9 502.2 796.6 495.4 797 488.7 C797.6 479.2 796 469.5 796 460 C796 450.6 797 440.9 797 431.5 C797 426.7 797.1 421.7 796 417 C795.4 414.7 793.8 412.6 792 411 C790.7 409.8 788.8 409.2 787 409 C780.4 408.4 773.6 408 767 408.6 C761.9 409 757 411 752 412 C748.1 412.8 744 414.3 740 414.3 C735.3 414.3 730.6 412.7 726 412 C720.7 411.2 715.3 410.5 710 410 C704.4 409.4 698.6 408.6 693 408.6 C690.6 408.6 688 408.8 686 410 C684.5 410.9 683.4 412.6 683 414.3 C681.8 419.9 681.5 425.8 681.5 431.5 C681.5 440.9 682.8 450.6 683 460 C683.2 469.5 683.9 479.3 683 488.7 C682.4 495.4 680 502.1 678.6 508.7 C677.8 512.4 676.8 516.2 676.5 520 C676.2 523.8 676.4 527.8 677 531.6 C677.5 534.8 678.5 538.1 680 541 C681.5 543.9 683.7 546.4 685.8 548.8 C687.5 550.8 691.2 551.9 691.5 554.5 C691.7 556.8 689.2 559.1 687 560 C680.7 562.6 673.6 563.2 667 564.5 C661.4 565.6 655.6 566.4 650 567 C646.3 567.4 642.3 567.9 638.6 567.4 C635.6 567 631.9 566.9 630 564.5 C628.8 563 630.7 560.5 632 559 C633.7 557 636.6 556.2 638.6 554.5 C641.8 551.9 645 549 648 546 C650.7 543.3 653.5 540.4 655.8 537.3 C657.9 534.4 659.4 531.2 661 528 C662.3 525.4 663.6 522.8 664.3 520 C665.6 515.1 666.3 510 667 505 C667.7 499.6 668.5 494.1 668.6 488.7 C669 474.5 668.9 460 668.6 445.8 C668.4 436.3 668 426.5 667 417 C666.8 414.6 665.9 412.2 665 410 C664.1 407.6 663 405.1 661.5 403 C660 400.8 657.8 399 656 397 C654.5 395.2 652.9 393.4 651.5 391.5 C650.9 390.6 649.8 389.7 650 388.6Z" fill="#5a9b9b" stroke="#dffaf6" stroke-width="1"/><ellipse cx="738.7" cy="395.8" rx="15" ry="11" fill="#4e8787"/><ellipse cx="741" cy="397" rx="8" ry="7" fill="#46787a"/><ellipse cx="662" cy="551" rx="16" ry="8" transform="rotate(-28 662 551)" fill="#4e8787"/>
<g fill="none" stroke="#6b6d72" stroke-linecap="butt" stroke-linejoin="round"><path d="M272 86 L290 100 L304 112" stroke-width="7.5"/><path d="M304 112 C312.6 113.5 321.4 115.2 330 116.5 C339.2 117.9 348.7 119.1 358 120 C368.5 121.1 379.4 122 390 122.5 C401.9 123 414.1 123.1 426 123 C433.9 122.9 442.1 122.5 450 122 C457.1 121.6 464.5 121.1 471.6 120.4 C479.3 119.6 487.3 118.6 495 117.5 C502.3 116.4 509.8 115.1 517 113.8 C524.6 112.4 532.4 111 540 109.5 C547.4 108 555 106.3 562.4 104.7 C569.9 103.1 577.5 101.5 585 100 C592.5 98.5 600.3 97.2 607.8 95.6 C615.2 94 622.7 92.2 630 90.5 C639.8 88.3 649.8 85.7 659.6 83.8 C669.6 81.9 679.9 80.3 690 79 C699.5 77.7 709.4 76.7 719 76 C725.6 75.5 732.4 74.9 739 75.5 C745.7 76.1 752.4 77.7 758.9 79.4 C766 81.2 773.1 83.6 780 86 C786.2 88.2 792.5 90.9 798.6 93.3 C805.7 96 812.9 98.8 820 101.5 C826 103.8 832.2 106.3 838.3 108.2 C844.7 110.2 851.4 111.9 858 113.5 C864.6 115.1 871.5 116 878 117.6 C886.7 119.8 895.3 123 904 125 C912.2 126.9 920.8 128 929 129.5" stroke-width="8.6"/><path d="M304 112 L219 261 L147 377" stroke-width="6.5"/><path d="M147 377 C142.7 377.3 138.3 377.4 134 378 C130 378.6 125.3 378.2 122 380.5 C116.9 384.1 113.5 389.8 110 395 C103.5 404.6 97.9 415.1 92 425 C87 433.2 81.2 441.3 77 450 C75.5 453 74.9 456.6 75 460 C75.1 465.8 75.6 472 77.5 477.5 C81.3 488.6 86.1 499.8 92 510 C98.5 521.2 106.3 532.4 115 542 C120.6 548.2 127.7 553.5 135 557.5 C139.5 559.9 145.1 559.8 150 561" stroke-width="5"/><path d="M296 128 C298.3 130 300.4 132.3 303 134 C306 135.9 309.4 137.5 312.7 138.8 C320.1 141.7 327.7 144.7 335.4 146.7 C342.7 148.6 350.5 149.5 358 150.5 C365.5 151.5 373.3 152.1 380.8 153 C392.8 154.4 405 156.2 417 157.5 C426.2 158.5 435.8 159.2 445 160 C453.8 160.7 462.8 161.3 471.6 162 C486.6 163.2 502 164.8 517 166 C524.6 166.6 532.4 167.2 540 167.5 C547.4 167.8 555 168 562.4 168 C577.4 168 592.8 167.8 607.8 167.7" stroke-width="6.4"/><path d="M607 167.7 L873.5 167.7" stroke-width="5.9"/><path d="M418 158 L412.6 230 L409.5 275 L404 315" stroke-width="7"/><path d="M404 315 C411.6 319.6 419.2 324.8 427 329 C435 333.3 443.6 337 452 340.5 C460.1 343.9 468.6 347.3 477 350 C485.1 352.6 493.6 354.8 502 356.5 C510.2 358.1 518.7 359.2 527 360 C535.2 360.8 543.7 361.3 552 361.5 C568.5 361.8 585.5 361.5 602 361.5" stroke-width="6.4"/><path d="M404 315 C401 320.3 399 326.4 395 331 C389.9 336.8 383.3 341.5 377 346 C369.1 351.7 360.6 357.2 352 362 C343.4 366.8 334.1 371.1 325 375 C316.9 378.4 308.3 381.2 300 384 C291.8 386.8 283.2 389.4 275 392" stroke-width="6.5"/><path d="M602 168 C602 277.6 602.3 390.4 602 500 C602 504 601.8 508.1 601 512 C600.1 516.4 598.6 520.8 597 525 C595.6 528.7 593.7 532.4 592 536 C589.7 541 587.5 546.1 585 551 C582.6 555.7 579.8 560.5 577 565 C574.5 569.1 571.8 573.2 569 577 C566.2 580.8 563 584.4 560 588" stroke-width="7"/><path d="M602 325.9 L873.5 325.9" stroke-width="5.7"/><path d="M873.5 114 C873.5 248 873.7 386 873.5 520 C873.5 524 873.5 528.1 873 532 C872.4 536.4 871.3 540.8 870 545 C869 548.1 867.8 551.3 866 554 C863.8 557.3 860.9 560.3 858 563 C855.3 565.6 852.1 567.9 849 570 C845.9 572.1 842.4 574 839 575.5 C833.5 577.9 827.7 580.1 822 582 C816.1 584 809.9 585.6 804 587.5 C797.7 589.5 791.3 591.9 785 594 C778.9 596 772.6 598.1 766.5 600 C761.7 601.5 756.8 603.1 752 604.5 C748.5 605.5 745.1 606.9 741.5 607.5 C735.1 608.6 728.5 609.1 722 609.5 C716.1 609.9 709.9 610 704 610 C691.1 610 677.9 609.7 665 609.5 C652.5 609.3 639.5 609.6 627 609 C620 608.6 612.9 607.8 606 606.5 C600.3 605.4 594.5 603.8 589 602 C583.6 600.3 578.1 598.5 573 596 C568.5 593.8 564.3 590.6 560 588" stroke-width="7.2"/><path d="M729.3 168 L729.3 326" stroke-width="5.3"/><path d="M749.2 168 L749.2 326" stroke-width="5.5"/><path d="M740 465 L740 607" stroke-width="7.5"/><path d="M394 494.5 L560 588" stroke-width="6.6"/><path d="M185 556 C205.6 549.9 226.9 543.8 247.5 537.5 C264.9 532.1 282.8 526.5 300 520.5 C317 514.6 334 507.4 351 501.5 C357.8 499.1 365 497.3 372 495.5 C376.1 494.5 380.3 493.2 384.5 493 C387.7 492.9 390.9 494 394 494.5" stroke-width="7"/><path d="M185 556 L170 561.5" stroke-width="6"/><path d="M418 449 L394 494.5" stroke-width="6.5"/><path d="M247.5 537.5 C252.3 551.5 257.6 565.8 262 580 C266 593.1 269.5 606.8 273 620 C275.1 628.2 276.7 636.8 279 645 C280 648.7 281.3 652.5 283 656 C285 660.1 287.3 664.3 290 668 C292.9 671.9 296.2 675.9 300 679 C303.5 681.9 307.8 684.2 312 686 C316.1 687.7 320.6 688.8 325 689.5 C329.9 690.3 335 690.5 340 690.5 C344 690.5 348.2 690.6 352 689.5 C360.5 687.1 368.7 683 377 680 C385.2 677 393.7 674.1 402 671.5 C412.2 668.3 422.7 665.4 433 662.5 C443.4 659.6 454.1 656.7 464.5 654 C472.9 651.9 481.6 650.2 490 648 C498.1 645.9 506.5 643.6 514.5 641 C518.7 639.6 523.2 638.2 527 636 C530.7 633.9 534.2 631.1 537 628 C540.8 623.8 544 618.8 547 614 C549.6 609.9 551.8 605.4 554 601 C556.1 596.8 558 592.3 560 588" stroke-width="7"/><path d="M214 668 L279 647" stroke-width="7"/><path d="M399.5 674 L412 716.5" stroke-width="6.5"/><path d="M589.5 602 L591 649" stroke-width="6.5"/><circle cx="219" cy="261" r="10" fill="#6b6d72" stroke="none"/><circle cx="275" cy="392" r="8" fill="#6b6d72" stroke="none"/><circle cx="418" cy="449" r="8" fill="#6b6d72" stroke="none"/><circle cx="185" cy="556" r="8.5" fill="#6b6d72" stroke="none"/><circle cx="214" cy="668" r="8.5" fill="#6b6d72" stroke="none"/><circle cx="412" cy="716.5" r="8" fill="#6b6d72" stroke="none"/><circle cx="591" cy="649" r="8" fill="#6b6d72" stroke="none"/><circle cx="740" cy="464.5" r="7.5" fill="#6b6d72" stroke="none"/><path d="M898 120.5 C915 124.5 935 126 970 120.5 L970 136.5 C945 137 915 135 898 128.8Z" fill="#6b6d72" stroke="none"/><path d="M133 377 L152 366 L156 374 L146 393 Z" fill="#6b6d72" stroke="none"/></g>
<path d="M600 119.6 C630 117 655 114 677.4 112.2" stroke="#eafffb" stroke-width="1.6" fill="none"/><path d="M307 121 C310.6 123.3 313.9 126.6 318 128 C323.4 129.9 329.4 130.2 335 131 C341.6 131.9 348.5 131.7 355 133 C361.8 134.4 368.3 137.3 375 139 C381.5 140.6 388.3 142.2 395 143 C401.6 143.8 408.4 144.5 415 144 C420.7 143.5 426.4 141.5 432 140 C437.3 138.5 442.5 135.9 448 135 C452.6 134.2 457.5 134 462 135 C465 135.7 467.9 137.7 470 140 C473.3 143.5 474.2 149.1 478 152 C481.9 155 487.2 156.1 492 157 C497.8 158.1 504.1 157.5 510 158 C516.6 158.5 523.4 159.2 530 160 C536.6 160.8 543.3 163.5 550 163 C552.6 162.8 555.6 160.5 556 158 C556.4 155.1 552 153 552 150 C552 146.4 553.8 142.8 556 140 C558.6 136.7 562.5 134.3 566 132 C570.4 129 575 125.8 580 124 C586.3 121.7 593.4 121.1 600 119.6" stroke="#eafffb" stroke-width="1.5" fill="none"/><path d="M395 143 C399.9 142.3 405 140.7 410 141 C416.1 141.4 422 144 428 145 C433.6 146 439.4 146.8 445 147 C450 147.2 455.2 147.3 460 146 C463.7 145 466.7 142 470 140" stroke="#eafffb" stroke-width="1.2" fill="none"/><circle cx="497.7" cy="144.5" r="8.5" fill="none" stroke="#eafffb" stroke-width="1.6"/><path d="M510 142 C511 138.9 513.2 135.7 516 134 C519.5 131.9 524 132 528 131 C532 130 535.9 128 540 128 C543.4 128 547.5 128.7 550 131 C552.3 133.1 552.8 136.9 553 140 C553.2 143.4 552.7 147.1 551 150 C549.5 152.4 546.7 154.2 544 155 C539.5 156.3 534.6 156.2 530 156 C525.7 155.8 521.1 155.5 517 154 C514.6 153.1 512.3 151.2 511 149 C509.8 147 509.3 144.2 510 142Z" fill="#93d8cd" stroke="#eafffb" stroke-width="1.6"/><circle cx="541" cy="139" r="5" fill="none" stroke="#d9f7f1" stroke-width="0.8"/><path d="M625.8 124.5 H644.7 V153.3 H625.8 V150.3 H600 V146 H586 V137 H600 V136.4 H625.8Z" fill="#fbfffe"/><rect x="597" y="131" width="10" height="6" fill="#fbfffe"/><path d="M732.9 76 V104 Q732.9 108.9 728 108.9 H678 V116.8 H723 Q727 116.8 727 121 V168 H752 V121 Q752 116.8 756 116.8 H770.9 V108.9 H750.4 Q745.4 108.9 745.4 104 V76Z" fill="#6b6d72"/><path d="M678.5 106.6 H728 M755.5 106.6 H770.5 M678.5 119.1 H723 M755.5 119.1 H770.5" stroke="#f4fffd" stroke-width="4.6" stroke-dasharray="1.3 1.6" fill="none"/><rect x="732.6" y="121" width="13.8" height="44" rx="6.9" fill="#6b6d72" stroke="#f4fffd" stroke-width="1"/><rect x="734.6" y="123" width="9.8" height="40" rx="4.9" fill="#dff1da"/><rect x="734.6" y="142.3" width="9.8" height="6.6" fill="#6b6d72"/><rect x="734.6" y="132" width="9.8" height="5" fill="#f4fffd" opacity="0.7"/><path d="M726.6 142.3 L694.3 134.4 A11.8 11.8 0 1 0 694.3 156.8 L726.6 148.9 Z" fill="#5a9b9b" stroke="#e6fffb" stroke-width="1"/><circle cx="690.3" cy="145.6" r="5.8" fill="#a9dcd4" stroke="#e6fffb" stroke-width="0.8"/><circle cx="690.3" cy="145.6" r="3.2" fill="#cfeee8" stroke="#7fbdb8" stroke-width="0.7"/><circle cx="690.3" cy="145.6" r="1.1" fill="#f4fffd"/><path d="M752.4 142.3 L783.6 134.4 A11.8 11.8 0 1 1 783.6 156.8 L752.4 148.9 Z" fill="#5a9b9b" stroke="#e6fffb" stroke-width="1"/><circle cx="787.6" cy="145.6" r="5.8" fill="#a9dcd4" stroke="#e6fffb" stroke-width="0.8"/><circle cx="787.6" cy="145.6" r="3.2" fill="#cfeee8" stroke="#7fbdb8" stroke-width="0.7"/><circle cx="787.6" cy="145.6" r="1.1" fill="#f4fffd"/><path d="M707.4 133.8 V128.8 H711 V127.3 H721 V128.8 H724.4 V133.8Z M753.2 133.8 V128.8 H757 V127.3 H767 V128.8 H770.9 V133.8Z" fill="#fbfffe"/><rect x="776.2" y="108.9" width="23.6" height="19.7" fill="#a5ddd4" stroke="#d6f5ef" stroke-width="1"/><path d="M779 111.5 h7.5 v14.5 h-7.5z M789.5 111.5 h7.5 v14.5 h-7.5z" fill="none" stroke="#d6f5ef" stroke-width="0.8"/><rect x="805.5" y="121" width="18.9" height="36.7" fill="#a5ddd4" stroke="#d6f5ef" stroke-width="1"/><rect x="809.5" y="126" width="10.9" height="26.7" fill="none" stroke="#d6f5ef" stroke-width="0.8"/><path d="M809.5 139.3 h10.9 M815 131 v17" stroke="#d6f5ef" stroke-width="0.7" fill="none"/><rect x="828" y="121" width="18.9" height="36.7" fill="#a5ddd4" stroke="#d6f5ef" stroke-width="1"/><rect x="832" y="126" width="10.9" height="26.7" fill="none" stroke="#d6f5ef" stroke-width="0.8"/><path d="M832 139.3 h10.9 M837.5 131 v17" stroke="#d6f5ef" stroke-width="0.7" fill="none"/><path d="M876 152 H884 V142.5 H898 V147 H904 V157 H898 V162 H884 V156 H876Z" fill="#6b6d72"/><path d="M885 159.5 H897.5" stroke="#f4fffd" stroke-width="4.2" stroke-dasharray="1.2 1.5" fill="none"/><rect x="887" y="140.8" width="9" height="1.8" fill="#f4fffd"/><rect x="733" y="172" width="13.5" height="150" rx="6.5" fill="#9fdccf" stroke="#e6fffb" stroke-width="1"/><use href="#pd" transform="translate(739.7 190) scale(0.86) rotate(190)"/><use href="#pd" transform="translate(739.7 204.5) scale(0.86) rotate(6)"/><use href="#pd" transform="translate(739.7 219) scale(0.86) rotate(183)"/><use href="#pd" transform="translate(739.7 233) scale(0.86) rotate(341)"/><use href="#pd" transform="translate(739.7 247) scale(0.86) rotate(139)"/><use href="#pd" transform="translate(739.7 262) scale(0.86) rotate(334)"/><use href="#pd" transform="translate(739.7 277) scale(0.86) rotate(169)"/><use href="#pd" transform="translate(739.7 291.5) scale(0.86) rotate(345)"/><use href="#pd" transform="translate(739.7 306) scale(0.86) rotate(162)"/><use href="#pd" transform="translate(739.7 315.5) scale(0.86) rotate(153)"/><rect x="732" y="332" width="15.5" height="44.5" fill="#a6dfc8"/><path d="M165.8 552.5 L173.3 559.5 L166 567.5 L158.5 560.5Z" fill="#fbfffe"/><path d="M130.8 616 L140 607 L150 613 L155.8 606 L161.5 609.5 L144.3 636 L131 622Z" fill="#fbfffe"/><path d="M151 571 L128 606 M158 572 L136 606 M127 606 L139 600" stroke="#eafffb" stroke-width="1" fill="none"/><path d="M152 584 L165 572 L167.5 574.5 L154.5 586.5Z" fill="none" stroke="#eafffb" stroke-width="1"/>
<path d="M108.5 398.5 L117.5 406.5" stroke="#6b6d72" stroke-width="4.6" fill="none"/><path d="M362.5 154 L362.5 161.7 M388 155 L388 164.7 M227.5 252 L241.5 262.1 M198 303 L203.1 305.5 M176 339 L181.7 341.8 M158 367.5 L162.9 370.4 M412 220 L403.3 220 M410 259 L399.3 259 M402 312 L393.3 312 M349 359 L343.4 354.7 M301 382 L297.6 376.8 M302.5 388 L302.5 390.7 M327.5 376 L330.4 380.9 M377 349 L379.3 352.3 M519.5 357 L519.5 345.3 M502 167 L502 178.3 M487 357.5 L487 364.7 M526 364 L526 371.7 M416 444 L416 434.3 M424 447 L431.7 447 M400 482 L393.6 475.6 M406 481 L412.7 481 M355 499 L355 487.3 M604 190 L613.7 190 M604 225 L613.7 225 M604 260 L613.7 260 M604 294 L613.7 294 M729 190 L716.8 190 M729 225 L716.8 225 M729 260 L716.8 260 M729 294 L716.8 294 M751 188 L760.7 188 M751 227 L758.7 227 M751 267 L758.7 267 M751 298 L758.7 298 M872 182.5 L861.3 182.5 M872 219.5 L863.3 219.5 M872 256 L862.3 256 M872 296 L862.3 296 M875 180 L884.7 180 M875 208.5 L884.7 208.5 M875 237 L884.7 237 M875 267 L884.7 267 M875 297 L884.7 297 M875 326 L884.7 326 M875 357 L884.7 357 M875 386 L884.7 386 M875 416 L884.7 416 M875 446 L884.7 446 M875 476 L884.7 476 M875 505 L884.7 505 M875 532 L884.7 532 M617 327 L617 334.7 M664.5 327 L664.5 335.7 M704 327 L704 334.7 M753.5 327 L753.5 336.7 M808 327 L808 336.7 M850 327 L850 336.7 M604 405 L610.2 405 M604 441 L611.7 441 M604 474 L611.7 474 M604 498 L611.7 498 M598 527 L605.2 527 M872 399 L862.3 399 M872 444 L862.3 444 M872 471 L862.3 471 M872 506 L862.3 506 M737 461 L731.4 454.2 M743 461 L750.2 454.3 M739 501 L729.3 501 M741 501 L749.7 501 M739 541 L729.3 541 M741 541 L749.7 541 M741 579 L748.7 579 M712 608 L712 598.3 M802 586 L802 578.3 M841 573 L841 565.3 M626 607 L626 596.8 M647 607 L647 596.8 M715 611 L715 618.2 M748 608 L748 614.7 M768 601 L768 608.2 M803 588 L807.3 596.7 M838 577 L843.3 586 M678 611 L678 618.2 M647 611 L647 618.2 M600 607 L600 614.7 M589 614 L581.3 614 M600 486 L590.3 486 M591 532 L583.8 532 M600 432.5 L590.3 432.5 M460 527 L460 520.3 M495 546.5 L495 539.3 M547 576 L547 569.3 M362 501 L366.5 509.3 M409 510 L409 516.7 M447 529 L441.2 534.6 M476 544 L470.9 549.3 M503.5 559 L496.6 564.9 M377 680 L377 670.8 M408 669 L403.9 661.2 M440 660 L436.7 654.5 M465 653.5 L465 648.3 M377 683 L380.8 688.8 M404 692 L411.7 692 M484 651 L484 662.2 M517 642 L517 649.7 M410 719 L410 725.7 M418 718 L424.6 721.1 M588 652 L582.7 661 M596 651 L603 655.2 M213 543 L209 534.4 M250.5 530 L247.9 524.4 M286.5 519.5 L283.1 512.4 M323 507.5 L318.5 499.2 M331 508.5 L331 516.7 M274 611 L280.7 611 M199 556 L202.4 561.2 M228 545 L232.5 552.1 M250.5 653 L250.5 643.3 M224.5 661 L224.5 651.8 M211 664 L205.3 657.8 M213 671 L213 679.7 M238 662 L241 668.1 M275 651 L275 657.2 M336 150 L328.7 163.7 M254 210 L263.8 215.7 M417 201 L434 201.9 M414.5 249 L428 249.7 M411 281 L424.4 282.2 M600 221 L582.5 221 M600 279 L579.5 279 M569.5 360 L569.5 342 M584.5 364 L584.5 372 M428 330 L422.6 332.9 M268 399 L263.5 401.6 M264 577.5 L269.4 575.7 M336 688 L335.1 681.6 M542 582 L539 587.6 M868 554 L874.6 558.6" stroke="#6b6d72" stroke-width="3.4" fill="none"/><path d="M371.5 166.5 L371.5 174 L370 174 L370 176.5 L367.5 176.5 L367.5 177.8 L362 177.8 L362 176.5 L360 176.5 L360 173 L358.5 173 L358.5 168.5 L360 168.5 L360 164.2 L368.5 164.2 L368.5 166.5Z M364.7 159.5 L364.7 163.9 L360.3 163.9 L360.3 159.5Z M364.7 178.1 L364.7 182.5 L360.3 182.5 L360.3 178.1Z M395.5 169.5 L395.5 177 L394 177 L394 179.5 L391.5 179.5 L391.5 180.8 L386 180.8 L386 179.5 L384 179.5 L384 176 L382.5 176 L382.5 171.5 L384 171.5 L384 167.2 L392.5 167.2 L392.5 169.5Z M390.2 162.5 L390.2 166.9 L385.8 166.9 L385.8 162.5Z M390.2 181.1 L390.2 185.5 L385.8 185.5 L385.8 181.1Z M243.3 267.7 L241.4 266.4 L246.4 259.5 L249.9 262 L250.8 260.8 L254.4 263.4 L253.5 264.6 L256.4 266.7 L255.2 268.3 L256.3 269 L253.1 273.5 L252 272.7 L250.5 274.8 L248.5 273.3 L247.6 274.5 L241.5 270.1Z M241 259 L244.5 261.6 L242 265.1 L238.4 262.6Z M256 269.9 L259.6 272.4 L257 276 L253.5 273.4Z M210.3 301.7 L217 304.9 L216.4 306.3 L218.6 307.4 L217.5 309.6 L218.7 310.2 L216.3 315.2 L215.2 314.6 L214.3 316.4 L211.1 314.9 L210.5 316.2 L206.4 314.3 L207.1 312.9 L203.2 311.1 L206.9 303.4 L209 304.4Z M202.1 302.5 L206.1 304.4 L204.1 308.4 L200.2 306.5Z M218.9 310.6 L222.8 312.5 L220.9 316.5 L216.9 314.6Z M188.9 338.2 L195.6 341.5 L194.9 342.9 L197.2 344 L196 346.2 L197.2 346.8 L194.7 351.7 L193.6 351.1 L192.7 352.9 L189.6 351.4 L188.9 352.7 L184.9 350.7 L185.5 349.4 L181.7 347.4 L185.5 339.8 L187.5 340.9Z M180.7 338.9 L184.6 340.9 L182.7 344.8 L178.7 342.8Z M197.3 347.2 L201.3 349.2 L199.3 353.1 L195.4 351.1Z M170.4 367.1 L176.8 370.9 L176.1 372.2 L178.3 373.4 L177 375.6 L178.1 376.2 L175.4 381 L174.3 380.3 L173.3 382.1 L170.2 380.3 L169.5 381.6 L165.6 379.4 L166.3 378.1 L162.6 375.9 L166.9 368.6 L168.9 369.7Z M162.1 367.3 L165.9 369.5 L163.8 373.4 L159.9 371.2Z M178.2 376.6 L182.1 378.8 L179.9 382.7 L176.1 380.5Z M398.5 229 L391 229 L391 227.5 L388.5 227.5 L388.5 225 L387.2 225 L387.2 219.5 L388.5 219.5 L388.5 217.5 L392 217.5 L392 216 L396.5 216 L396.5 217.5 L400.8 217.5 L400.8 226 L398.5 226Z M405.5 222.2 L401.1 222.2 L401.1 217.8 L405.5 217.8Z M386.9 222.2 L382.5 222.2 L382.5 217.8 L386.9 217.8Z M394.5 267.5 L387 267.5 L387 266 L384.5 266 L384.5 263.5 L383.2 263.5 L383.2 258 L384.5 258 L384.5 256 L388 256 L388 254.5 L392.5 254.5 L392.5 256 L396.8 256 L396.8 264.5 L394.5 264.5Z M401.5 261.2 L397.1 261.2 L397.1 256.8 L401.5 256.8Z M382.9 261.2 L378.5 261.2 L378.5 256.8 L382.9 256.8Z M388.5 302.5 L390.8 302.5 L390.8 311 L386.5 311 L386.5 312.5 L382 312.5 L382 311 L378.5 311 L378.5 309 L377.2 309 L377.2 303.5 L378.5 303.5 L378.5 301 L381 301 L381 299.5 L388.5 299.5Z M395.5 314.2 L391.1 314.2 L391.1 309.8 L395.5 309.8Z M376.9 314.2 L372.5 314.2 L372.5 309.8 L376.9 309.8Z M335.6 356.9 L329.7 352.3 L330.6 351.1 L328.6 349.6 L330.1 347.6 L329.1 346.8 L332.4 342.5 L333.5 343.3 L334.7 341.7 L337.5 343.8 L338.4 342.6 L341.9 345.4 L341 346.6 L344.4 349.2 L339.3 355.9 L337.4 354.5Z M343.8 357.8 L340.3 355.1 L343 351.6 L346.5 354.3Z M329 346.4 L325.5 343.7 L328.2 340.2 L331.7 342.9Z M297.9 370.9 L299.2 372.8 L292 377.4 L289.7 373.8 L288.4 374.6 L286 370.9 L287.2 370.1 L285.3 367.1 L287 366 L286.3 365 L290.9 361.9 L291.6 363 L293.7 361.7 L295 363.8 L296.3 362.9 L300.4 369.2Z M297 379.8 L294.5 376.1 L298.2 373.7 L300.6 377.4Z M286.8 364.3 L284.4 360.6 L288 358.2 L290.5 361.9Z M312.5 395.5 L312.5 403 L311 403 L311 405.5 L308.5 405.5 L308.5 406.8 L303 406.8 L303 405.5 L301 405.5 L301 402 L299.5 402 L299.5 397.5 L301 397.5 L301 393.2 L309.5 393.2 L309.5 395.5Z M304.7 388.5 L304.7 392.9 L300.3 392.9 L300.3 388.5Z M304.7 407.1 L304.7 411.5 L300.3 411.5 L300.3 407.1Z M338.4 381.9 L342.1 388.4 L340.8 389.1 L342.1 391.3 L339.9 392.5 L340.6 393.6 L335.8 396.4 L335.1 395.3 L333.4 396.3 L331.7 393.2 L330.4 394 L328.1 390.1 L329.4 389.3 L327.3 385.6 L334.6 381.4 L335.8 383.4Z M331.2 377.9 L333.4 381.8 L329.5 383.9 L327.3 380.1Z M340.5 394.1 L342.7 397.9 L338.8 400.1 L336.6 396.2Z M387.3 352.6 L391.6 358.8 L390.3 359.7 L391.7 361.7 L389.7 363.1 L390.4 364.2 L385.9 367.3 L385.1 366.2 L383.5 367.4 L381.5 364.5 L380.3 365.3 L377.7 361.6 L379 360.8 L376.5 357.2 L383.6 352.4 L384.9 354.3Z M379.8 349.3 L382.3 352.9 L378.7 355.4 L376.2 351.7Z M390.3 364.6 L392.8 368.3 L389.2 370.7 L386.7 367.1Z M510.5 340.5 L510.5 333 L512 333 L512 330.5 L514.5 330.5 L514.5 329.2 L520 329.2 L520 330.5 L522 330.5 L522 334 L523.5 334 L523.5 338.5 L522 338.5 L522 342.8 L513.5 342.8 L513.5 340.5Z M517.3 347.5 L517.3 343.1 L521.7 343.1 L521.7 347.5Z M517.3 328.9 L517.3 324.5 L521.7 324.5 L521.7 328.9Z M511 183.1 L511 190.6 L509.5 190.6 L509.5 193.1 L507 193.1 L507 194.4 L501.5 194.4 L501.5 193.1 L499.5 193.1 L499.5 189.6 L498 189.6 L498 185.1 L499.5 185.1 L499.5 180.8 L508 180.8 L508 183.1Z M504.2 176.1 L504.2 180.5 L499.8 180.5 L499.8 176.1Z M504.2 194.7 L504.2 199.1 L499.8 199.1 L499.8 194.7Z M482.5 369.5 L482.5 367.2 L491 367.2 L491 371.5 L492.5 371.5 L492.5 376 L491 376 L491 379.5 L489 379.5 L489 380.8 L483.5 380.8 L483.5 379.5 L481 379.5 L481 377 L479.5 377 L479.5 369.5Z M489.2 362.5 L489.2 366.9 L484.8 366.9 L484.8 362.5Z M489.2 381.1 L489.2 385.5 L484.8 385.5 L484.8 381.1Z M533.5 376.5 L533.5 384 L532 384 L532 386.5 L529.5 386.5 L529.5 387.8 L524 387.8 L524 386.5 L522 386.5 L522 383 L520.5 383 L520.5 378.5 L522 378.5 L522 374.2 L530.5 374.2 L530.5 376.5Z M528.2 369.5 L528.2 373.9 L523.8 373.9 L523.8 369.5Z M528.2 388.1 L528.2 392.5 L523.8 392.5 L523.8 388.1Z M404.5 429.5 L404.5 422 L406 422 L406 419.5 L408.5 419.5 L408.5 418.2 L414 418.2 L414 419.5 L416 419.5 L416 423 L417.5 423 L417.5 427.5 L416 427.5 L416 431.8 L407.5 431.8 L407.5 429.5Z M413.8 436.5 L413.8 432.1 L418.2 432.1 L418.2 436.5Z M413.8 417.9 L413.8 413.5 L418.2 413.5 L418.2 417.9Z M436.5 433.5 L444 433.5 L444 435 L446.5 435 L446.5 437.5 L447.8 437.5 L447.8 443 L446.5 443 L446.5 445 L443 445 L443 446.5 L438.5 446.5 L438.5 445 L434.2 445 L434.2 436.5 L436.5 436.5Z M429.5 444.8 L433.9 444.8 L433.9 449.2 L429.5 449.2Z M448.1 444.8 L452.5 444.8 L452.5 449.2 L448.1 449.2Z M385.6 476.8 L380.3 471.5 L381.3 470.4 L379.6 468.6 L381.3 466.9 L380.4 466 L384.3 462.1 L385.2 463 L386.6 461.6 L389.1 464.1 L390.2 463 L393.4 466.2 L392.3 467.2 L395.3 470.3 L389.3 476.3 L387.7 474.7Z M393.6 478.7 L390.5 475.6 L393.6 472.5 L396.7 475.6Z M380.4 465.5 L377.3 462.4 L380.4 459.3 L383.5 462.4Z M417.5 488.5 L415.2 488.5 L415.2 480 L419.5 480 L419.5 478.5 L424 478.5 L424 480 L427.5 480 L427.5 482 L428.8 482 L428.8 487.5 L427.5 487.5 L427.5 490 L425 490 L425 491.5 L417.5 491.5Z M410.5 478.8 L414.9 478.8 L414.9 483.2 L410.5 483.2Z M429.1 478.8 L433.5 478.8 L433.5 483.2 L429.1 483.2Z M341 482.5 L341 475 L342.5 475 L342.5 472.5 L345 472.5 L345 471.2 L350.5 471.2 L350.5 472.5 L352.5 472.5 L352.5 476 L354 476 L354 480.5 L352.5 480.5 L352.5 484.8 L344 484.8 L344 482.5Z M352.8 489.5 L352.8 485.1 L357.2 485.1 L357.2 489.5Z M352.8 470.9 L352.8 466.5 L357.2 466.5 L357.2 470.9Z M618.5 181 L626 181 L626 182.5 L628.5 182.5 L628.5 185 L629.8 185 L629.8 190.5 L628.5 190.5 L628.5 192.5 L625 192.5 L625 194 L620.5 194 L620.5 192.5 L616.2 192.5 L616.2 184 L618.5 184Z M611.5 187.8 L615.9 187.8 L615.9 192.2 L611.5 192.2Z M630.1 187.8 L634.5 187.8 L634.5 192.2 L630.1 192.2Z M618.5 215 L626 215 L626 216.5 L628.5 216.5 L628.5 219 L629.8 219 L629.8 224.5 L628.5 224.5 L628.5 226.5 L625 226.5 L625 228 L620.5 228 L620.5 226.5 L616.2 226.5 L616.2 218 L618.5 218Z M611.5 222.8 L615.9 222.8 L615.9 227.2 L611.5 227.2Z M630.1 222.8 L634.5 222.8 L634.5 227.2 L630.1 227.2Z M618.5 249.5 L626 249.5 L626 251 L628.5 251 L628.5 253.5 L629.8 253.5 L629.8 259 L628.5 259 L628.5 261 L625 261 L625 262.5 L620.5 262.5 L620.5 261 L616.2 261 L616.2 252.5 L618.5 252.5Z M611.5 257.8 L615.9 257.8 L615.9 262.2 L611.5 262.2Z M630.1 257.8 L634.5 257.8 L634.5 262.2 L630.1 262.2Z M618.5 283.5 L626 283.5 L626 285 L628.5 285 L628.5 287.5 L629.8 287.5 L629.8 293 L628.5 293 L628.5 295 L625 295 L625 296.5 L620.5 296.5 L620.5 295 L616.2 295 L616.2 286.5 L618.5 286.5Z M611.5 291.8 L615.9 291.8 L615.9 296.2 L611.5 296.2Z M630.1 291.8 L634.5 291.8 L634.5 296.2 L630.1 296.2Z M712 184 L714.3 184 L714.3 192.5 L710 192.5 L710 194 L705.5 194 L705.5 192.5 L702 192.5 L702 190.5 L700.7 190.5 L700.7 185 L702 185 L702 182.5 L704.5 182.5 L704.5 181 L712 181Z M719 192.2 L714.6 192.2 L714.6 187.8 L719 187.8Z M700.4 192.2 L696 192.2 L696 187.8 L700.4 187.8Z M712 219 L714.3 219 L714.3 227.5 L710 227.5 L710 229 L705.5 229 L705.5 227.5 L702 227.5 L702 225.5 L700.7 225.5 L700.7 220 L702 220 L702 217.5 L704.5 217.5 L704.5 216 L712 216Z M719 227.2 L714.6 227.2 L714.6 222.8 L719 222.8Z M700.4 227.2 L696 227.2 L696 222.8 L700.4 222.8Z M712 254 L714.3 254 L714.3 262.5 L710 262.5 L710 264 L705.5 264 L705.5 262.5 L702 262.5 L702 260.5 L700.7 260.5 L700.7 255 L702 255 L702 252.5 L704.5 252.5 L704.5 251 L712 251Z M719 262.2 L714.6 262.2 L714.6 257.8 L719 257.8Z M700.4 262.2 L696 262.2 L696 257.8 L700.4 257.8Z M712 288 L714.3 288 L714.3 296.5 L710 296.5 L710 298 L705.5 298 L705.5 296.5 L702 296.5 L702 294.5 L700.7 294.5 L700.7 289 L702 289 L702 286.5 L704.5 286.5 L704.5 285 L712 285Z M719 296.2 L714.6 296.2 L714.6 291.8 L719 291.8Z M700.4 296.2 L696 296.2 L696 291.8 L700.4 291.8Z M765.5 178.5 L773 178.5 L773 180 L775.5 180 L775.5 182.5 L776.8 182.5 L776.8 188 L775.5 188 L775.5 190 L772 190 L772 191.5 L767.5 191.5 L767.5 190 L763.2 190 L763.2 181.5 L765.5 181.5Z M758.5 185.8 L762.9 185.8 L762.9 190.2 L758.5 190.2Z M777.1 185.8 L781.5 185.8 L781.5 190.2 L777.1 190.2Z M763.5 217.5 L771 217.5 L771 219 L773.5 219 L773.5 221.5 L774.8 221.5 L774.8 227 L773.5 227 L773.5 229 L770 229 L770 230.5 L765.5 230.5 L765.5 229 L761.2 229 L761.2 220.5 L763.5 220.5Z M756.5 224.8 L760.9 224.8 L760.9 229.2 L756.5 229.2Z M775.1 224.8 L779.5 224.8 L779.5 229.2 L775.1 229.2Z M763.5 257.5 L771 257.5 L771 259 L773.5 259 L773.5 261.5 L774.8 261.5 L774.8 267 L773.5 267 L773.5 269 L770 269 L770 270.5 L765.5 270.5 L765.5 269 L761.2 269 L761.2 260.5 L763.5 260.5Z M756.5 264.8 L760.9 264.8 L760.9 269.2 L756.5 269.2Z M775.1 264.8 L779.5 264.8 L779.5 269.2 L775.1 269.2Z M763.5 288.5 L771 288.5 L771 290 L773.5 290 L773.5 292.5 L774.8 292.5 L774.8 298 L773.5 298 L773.5 300 L770 300 L770 301.5 L765.5 301.5 L765.5 300 L761.2 300 L761.2 291.5 L763.5 291.5Z M756.5 295.8 L760.9 295.8 L760.9 300.2 L756.5 300.2Z M775.1 295.8 L779.5 295.8 L779.5 300.2 L775.1 300.2Z M856.5 192.5 L849 192.5 L849 191 L846.5 191 L846.5 188.5 L845.2 188.5 L845.2 183 L846.5 183 L846.5 181 L850 181 L850 179.5 L854.5 179.5 L854.5 181 L858.8 181 L858.8 189.5 L856.5 189.5Z M863.5 184.7 L859.1 184.7 L859.1 180.3 L863.5 180.3Z M844.9 184.7 L840.5 184.7 L840.5 180.3 L844.9 180.3Z M858.5 229 L851 229 L851 227.5 L848.5 227.5 L848.5 225 L847.2 225 L847.2 219.5 L848.5 219.5 L848.5 217.5 L852 217.5 L852 216 L856.5 216 L856.5 217.5 L860.8 217.5 L860.8 226 L858.5 226Z M865.5 221.7 L861.1 221.7 L861.1 217.3 L865.5 217.3Z M846.9 221.7 L842.5 221.7 L842.5 217.3 L846.9 217.3Z M857.5 266.5 L850 266.5 L850 265 L847.5 265 L847.5 262.5 L846.2 262.5 L846.2 257 L847.5 257 L847.5 255 L851 255 L851 253.5 L855.5 253.5 L855.5 255 L859.8 255 L859.8 263.5 L857.5 263.5Z M864.5 258.2 L860.1 258.2 L860.1 253.8 L864.5 253.8Z M845.9 258.2 L841.5 258.2 L841.5 253.8 L845.9 253.8Z M857.5 287.5 L859.8 287.5 L859.8 296 L855.5 296 L855.5 297.5 L851 297.5 L851 296 L847.5 296 L847.5 294 L846.2 294 L846.2 288.5 L847.5 288.5 L847.5 286 L850 286 L850 284.5 L857.5 284.5Z M864.5 298.2 L860.1 298.2 L860.1 293.8 L864.5 293.8Z M845.9 298.2 L841.5 298.2 L841.5 293.8 L845.9 293.8Z M889.5 187.5 L887.2 187.5 L887.2 179 L891.5 179 L891.5 177.5 L896 177.5 L896 179 L899.5 179 L899.5 181 L900.8 181 L900.8 186.5 L899.5 186.5 L899.5 189 L897 189 L897 190.5 L889.5 190.5Z M882.5 177.8 L886.9 177.8 L886.9 182.2 L882.5 182.2Z M901.1 177.8 L905.5 177.8 L905.5 182.2 L901.1 182.2Z M889.5 216 L887.2 216 L887.2 207.5 L891.5 207.5 L891.5 206 L896 206 L896 207.5 L899.5 207.5 L899.5 209.5 L900.8 209.5 L900.8 215 L899.5 215 L899.5 217.5 L897 217.5 L897 219 L889.5 219Z M882.5 206.3 L886.9 206.3 L886.9 210.7 L882.5 210.7Z M901.1 206.3 L905.5 206.3 L905.5 210.7 L901.1 210.7Z M889.5 244.5 L887.2 244.5 L887.2 236 L891.5 236 L891.5 234.5 L896 234.5 L896 236 L899.5 236 L899.5 238 L900.8 238 L900.8 243.5 L899.5 243.5 L899.5 246 L897 246 L897 247.5 L889.5 247.5Z M882.5 234.8 L886.9 234.8 L886.9 239.2 L882.5 239.2Z M901.1 234.8 L905.5 234.8 L905.5 239.2 L901.1 239.2Z M889.5 274.5 L887.2 274.5 L887.2 266 L891.5 266 L891.5 264.5 L896 264.5 L896 266 L899.5 266 L899.5 268 L900.8 268 L900.8 273.5 L899.5 273.5 L899.5 276 L897 276 L897 277.5 L889.5 277.5Z M882.5 264.8 L886.9 264.8 L886.9 269.2 L882.5 269.2Z M901.1 264.8 L905.5 264.8 L905.5 269.2 L901.1 269.2Z M889.5 304.5 L887.2 304.5 L887.2 296 L891.5 296 L891.5 294.5 L896 294.5 L896 296 L899.5 296 L899.5 298 L900.8 298 L900.8 303.5 L899.5 303.5 L899.5 306 L897 306 L897 307.5 L889.5 307.5Z M882.5 294.8 L886.9 294.8 L886.9 299.2 L882.5 299.2Z M901.1 294.8 L905.5 294.8 L905.5 299.2 L901.1 299.2Z M889.5 333.5 L887.2 333.5 L887.2 325 L891.5 325 L891.5 323.5 L896 323.5 L896 325 L899.5 325 L899.5 327 L900.8 327 L900.8 332.5 L899.5 332.5 L899.5 335 L897 335 L897 336.5 L889.5 336.5Z M882.5 323.8 L886.9 323.8 L886.9 328.2 L882.5 328.2Z M901.1 323.8 L905.5 323.8 L905.5 328.2 L901.1 328.2Z M889.5 364.5 L887.2 364.5 L887.2 356 L891.5 356 L891.5 354.5 L896 354.5 L896 356 L899.5 356 L899.5 358 L900.8 358 L900.8 363.5 L899.5 363.5 L899.5 366 L897 366 L897 367.5 L889.5 367.5Z M882.5 354.8 L886.9 354.8 L886.9 359.2 L882.5 359.2Z M901.1 354.8 L905.5 354.8 L905.5 359.2 L901.1 359.2Z M889.5 393.5 L887.2 393.5 L887.2 385 L891.5 385 L891.5 383.5 L896 383.5 L896 385 L899.5 385 L899.5 387 L900.8 387 L900.8 392.5 L899.5 392.5 L899.5 395 L897 395 L897 396.5 L889.5 396.5Z M882.5 383.8 L886.9 383.8 L886.9 388.2 L882.5 388.2Z M901.1 383.8 L905.5 383.8 L905.5 388.2 L901.1 388.2Z M889.5 423.5 L887.2 423.5 L887.2 415 L891.5 415 L891.5 413.5 L896 413.5 L896 415 L899.5 415 L899.5 417 L900.8 417 L900.8 422.5 L899.5 422.5 L899.5 425 L897 425 L897 426.5 L889.5 426.5Z M882.5 413.8 L886.9 413.8 L886.9 418.2 L882.5 418.2Z M901.1 413.8 L905.5 413.8 L905.5 418.2 L901.1 418.2Z M889.5 453.5 L887.2 453.5 L887.2 445 L891.5 445 L891.5 443.5 L896 443.5 L896 445 L899.5 445 L899.5 447 L900.8 447 L900.8 452.5 L899.5 452.5 L899.5 455 L897 455 L897 456.5 L889.5 456.5Z M882.5 443.8 L886.9 443.8 L886.9 448.2 L882.5 448.2Z M901.1 443.8 L905.5 443.8 L905.5 448.2 L901.1 448.2Z M889.5 483.5 L887.2 483.5 L887.2 475 L891.5 475 L891.5 473.5 L896 473.5 L896 475 L899.5 475 L899.5 477 L900.8 477 L900.8 482.5 L899.5 482.5 L899.5 485 L897 485 L897 486.5 L889.5 486.5Z M882.5 473.8 L886.9 473.8 L886.9 478.2 L882.5 478.2Z M901.1 473.8 L905.5 473.8 L905.5 478.2 L901.1 478.2Z M889.5 512.5 L887.2 512.5 L887.2 504 L891.5 504 L891.5 502.5 L896 502.5 L896 504 L899.5 504 L899.5 506 L900.8 506 L900.8 511.5 L899.5 511.5 L899.5 514 L897 514 L897 515.5 L889.5 515.5Z M882.5 502.8 L886.9 502.8 L886.9 507.2 L882.5 507.2Z M901.1 502.8 L905.5 502.8 L905.5 507.2 L901.1 507.2Z M889.5 539.5 L887.2 539.5 L887.2 531 L891.5 531 L891.5 529.5 L896 529.5 L896 531 L899.5 531 L899.5 533 L900.8 533 L900.8 538.5 L899.5 538.5 L899.5 541 L897 541 L897 542.5 L889.5 542.5Z M882.5 529.8 L886.9 529.8 L886.9 534.2 L882.5 534.2Z M901.1 529.8 L905.5 529.8 L905.5 534.2 L901.1 534.2Z M626 339.5 L626 347 L624.5 347 L624.5 349.5 L622 349.5 L622 350.8 L616.5 350.8 L616.5 349.5 L614.5 349.5 L614.5 346 L613 346 L613 341.5 L614.5 341.5 L614.5 337.2 L623 337.2 L623 339.5Z M619.2 332.5 L619.2 336.9 L614.8 336.9 L614.8 332.5Z M619.2 351.1 L619.2 355.5 L614.8 355.5 L614.8 351.1Z M674.5 340.5 L674.5 348 L673 348 L673 350.5 L670.5 350.5 L670.5 351.8 L665 351.8 L665 350.5 L663 350.5 L663 347 L661.5 347 L661.5 342.5 L663 342.5 L663 338.2 L671.5 338.2 L671.5 340.5Z M666.7 333.5 L666.7 337.9 L662.3 337.9 L662.3 333.5Z M666.7 352.1 L666.7 356.5 L662.3 356.5 L662.3 352.1Z M714.5 339.5 L714.5 347 L713 347 L713 349.5 L710.5 349.5 L710.5 350.8 L705 350.8 L705 349.5 L703 349.5 L703 346 L701.5 346 L701.5 341.5 L703 341.5 L703 337.2 L711.5 337.2 L711.5 339.5Z M706.2 332.5 L706.2 336.9 L701.8 336.9 L701.8 332.5Z M706.2 351.1 L706.2 355.5 L701.8 355.5 L701.8 351.1Z M764.5 341.5 L764.5 349 L763 349 L763 351.5 L760.5 351.5 L760.5 352.8 L755 352.8 L755 351.5 L753 351.5 L753 348 L751.5 348 L751.5 343.5 L753 343.5 L753 339.2 L761.5 339.2 L761.5 341.5Z M755.7 334.5 L755.7 338.9 L751.3 338.9 L751.3 334.5Z M755.7 353.1 L755.7 357.5 L751.3 357.5 L751.3 353.1Z M819.5 341.5 L819.5 349 L818 349 L818 351.5 L815.5 351.5 L815.5 352.8 L810 352.8 L810 351.5 L808 351.5 L808 348 L806.5 348 L806.5 343.5 L808 343.5 L808 339.2 L816.5 339.2 L816.5 341.5Z M810.2 334.5 L810.2 338.9 L805.8 338.9 L805.8 334.5Z M810.2 353.1 L810.2 357.5 L805.8 357.5 L805.8 353.1Z M860.5 341.5 L860.5 349 L859 349 L859 351.5 L856.5 351.5 L856.5 352.8 L851 352.8 L851 351.5 L849 351.5 L849 348 L847.5 348 L847.5 343.5 L849 343.5 L849 339.2 L857.5 339.2 L857.5 341.5Z M852.2 334.5 L852.2 338.9 L847.8 338.9 L847.8 334.5Z M852.2 353.1 L852.2 357.5 L847.8 357.5 L847.8 353.1Z M615 394.5 L622.5 394.5 L622.5 396 L625 396 L625 398.5 L626.3 398.5 L626.3 404 L625 404 L625 406 L621.5 406 L621.5 407.5 L617 407.5 L617 406 L612.7 406 L612.7 397.5 L615 397.5Z M608 402.8 L612.4 402.8 L612.4 407.2 L608 407.2Z M626.6 402.8 L631 402.8 L631 407.2 L626.6 407.2Z M616.5 431 L624 431 L624 432.5 L626.5 432.5 L626.5 435 L627.8 435 L627.8 440.5 L626.5 440.5 L626.5 442.5 L623 442.5 L623 444 L618.5 444 L618.5 442.5 L614.2 442.5 L614.2 434 L616.5 434Z M609.5 438.8 L613.9 438.8 L613.9 443.2 L609.5 443.2Z M628.1 438.8 L632.5 438.8 L632.5 443.2 L628.1 443.2Z M616.5 464.5 L624 464.5 L624 466 L626.5 466 L626.5 468.5 L627.8 468.5 L627.8 474 L626.5 474 L626.5 476 L623 476 L623 477.5 L618.5 477.5 L618.5 476 L614.2 476 L614.2 467.5 L616.5 467.5Z M609.5 471.8 L613.9 471.8 L613.9 476.2 L609.5 476.2Z M628.1 471.8 L632.5 471.8 L632.5 476.2 L628.1 476.2Z M616.5 506.5 L614.2 506.5 L614.2 498 L618.5 498 L618.5 496.5 L623 496.5 L623 498 L626.5 498 L626.5 500 L627.8 500 L627.8 505.5 L626.5 505.5 L626.5 508 L624 508 L624 509.5 L616.5 509.5Z M609.5 495.8 L613.9 495.8 L613.9 500.2 L609.5 500.2Z M628.1 495.8 L632.5 495.8 L632.5 500.2 L628.1 500.2Z M610 537.5 L607.7 537.5 L607.7 529 L612 529 L612 527.5 L616.5 527.5 L616.5 529 L620 529 L620 531 L621.3 531 L621.3 536.5 L620 536.5 L620 539 L617.5 539 L617.5 540.5 L610 540.5Z M603 524.8 L607.4 524.8 L607.4 529.2 L603 529.2Z M621.6 524.8 L626 524.8 L626 529.2 L621.6 529.2Z M857.5 391.5 L859.8 391.5 L859.8 400 L855.5 400 L855.5 401.5 L851 401.5 L851 400 L847.5 400 L847.5 398 L846.2 398 L846.2 392.5 L847.5 392.5 L847.5 390 L850 390 L850 388.5 L857.5 388.5Z M864.5 401.2 L860.1 401.2 L860.1 396.8 L864.5 396.8Z M845.9 401.2 L841.5 401.2 L841.5 396.8 L845.9 396.8Z M857.5 435.5 L859.8 435.5 L859.8 444 L855.5 444 L855.5 445.5 L851 445.5 L851 444 L847.5 444 L847.5 442 L846.2 442 L846.2 436.5 L847.5 436.5 L847.5 434 L850 434 L850 432.5 L857.5 432.5Z M864.5 446.2 L860.1 446.2 L860.1 441.8 L864.5 441.8Z M845.9 446.2 L841.5 446.2 L841.5 441.8 L845.9 441.8Z M857.5 480.5 L850 480.5 L850 479 L847.5 479 L847.5 476.5 L846.2 476.5 L846.2 471 L847.5 471 L847.5 469 L851 469 L851 467.5 L855.5 467.5 L855.5 469 L859.8 469 L859.8 477.5 L857.5 477.5Z M864.5 473.2 L860.1 473.2 L860.1 468.8 L864.5 468.8Z M845.9 473.2 L841.5 473.2 L841.5 468.8 L845.9 468.8Z M857.5 515.5 L850 515.5 L850 514 L847.5 514 L847.5 511.5 L846.2 511.5 L846.2 506 L847.5 506 L847.5 504 L851 504 L851 502.5 L855.5 502.5 L855.5 504 L859.8 504 L859.8 512.5 L857.5 512.5Z M864.5 508.2 L860.1 508.2 L860.1 503.8 L864.5 503.8Z M845.9 508.2 L841.5 508.2 L841.5 503.8 L845.9 503.8Z M731.1 448.3 L732.5 450 L726 455.4 L723.2 452.1 L722.1 453.1 L719.2 449.6 L720.4 448.6 L718.1 445.9 L719.7 444.7 L718.9 443.6 L723.1 440.2 L723.9 441.2 L725.9 439.6 L727.5 441.5 L728.6 440.6 L733.4 446.4Z M731.1 457.3 L728.3 453.9 L731.7 451.1 L734.5 454.5Z M719.3 442.9 L716.5 439.5 L719.9 436.7 L722.7 440.1Z M756.1 453.6 L754.4 455.2 L748.6 449 L751.8 446 L750.7 444.9 L754 441.9 L755.1 443 L757.6 440.6 L759 442.1 L759.9 441.2 L763.7 445.2 L762.7 446.1 L764.4 447.9 L762.6 449.6 L763.6 450.7 L758.1 455.8Z M747.1 454.2 L750.3 451.2 L753.3 454.4 L750.1 457.4Z M760.7 441.6 L763.9 438.6 L766.9 441.8 L763.7 444.8Z M724.5 494 L726.8 494 L726.8 502.5 L722.5 502.5 L722.5 504 L718 504 L718 502.5 L714.5 502.5 L714.5 500.5 L713.2 500.5 L713.2 495 L714.5 495 L714.5 492.5 L717 492.5 L717 491 L724.5 491Z M731.5 503.2 L727.1 503.2 L727.1 498.8 L731.5 498.8Z M712.9 503.2 L708.5 503.2 L708.5 498.8 L712.9 498.8Z M754.5 491 L762 491 L762 492.5 L764.5 492.5 L764.5 495 L765.8 495 L765.8 500.5 L764.5 500.5 L764.5 502.5 L761 502.5 L761 504 L756.5 504 L756.5 502.5 L752.2 502.5 L752.2 494 L754.5 494Z M747.5 498.8 L751.9 498.8 L751.9 503.2 L747.5 503.2Z M766.1 498.8 L770.5 498.8 L770.5 503.2 L766.1 503.2Z M724.5 536.5 L726.8 536.5 L726.8 545 L722.5 545 L722.5 546.5 L718 546.5 L718 545 L714.5 545 L714.5 543 L713.2 543 L713.2 537.5 L714.5 537.5 L714.5 535 L717 535 L717 533.5 L724.5 533.5Z M731.5 543.2 L727.1 543.2 L727.1 538.8 L731.5 538.8Z M712.9 543.2 L708.5 543.2 L708.5 538.8 L712.9 538.8Z M754.5 533.5 L762 533.5 L762 535 L764.5 535 L764.5 537.5 L765.8 537.5 L765.8 543 L764.5 543 L764.5 545 L761 545 L761 546.5 L756.5 546.5 L756.5 545 L752.2 545 L752.2 536.5 L754.5 536.5Z M747.5 538.8 L751.9 538.8 L751.9 543.2 L747.5 543.2Z M766.1 538.8 L770.5 538.8 L770.5 543.2 L766.1 543.2Z M753.5 586 L751.2 586 L751.2 577.5 L755.5 577.5 L755.5 576 L760 576 L760 577.5 L763.5 577.5 L763.5 579.5 L764.8 579.5 L764.8 585 L763.5 585 L763.5 587.5 L761 587.5 L761 589 L753.5 589Z M746.5 576.8 L750.9 576.8 L750.9 581.2 L746.5 581.2Z M765.1 576.8 L769.5 576.8 L769.5 581.2 L765.1 581.2Z M703.5 593.5 L703.5 586 L705 586 L705 583.5 L707.5 583.5 L707.5 582.2 L713 582.2 L713 583.5 L715 583.5 L715 587 L716.5 587 L716.5 591.5 L715 591.5 L715 595.8 L706.5 595.8 L706.5 593.5Z M709.8 600.5 L709.8 596.1 L714.2 596.1 L714.2 600.5Z M709.8 581.9 L709.8 577.5 L714.2 577.5 L714.2 581.9Z M793.5 573.5 L793.5 566 L795 566 L795 563.5 L797.5 563.5 L797.5 562.2 L803 562.2 L803 563.5 L805 563.5 L805 567 L806.5 567 L806.5 571.5 L805 571.5 L805 575.8 L796.5 575.8 L796.5 573.5Z M799.8 580.5 L799.8 576.1 L804.2 576.1 L804.2 580.5Z M799.8 561.9 L799.8 557.5 L804.2 557.5 L804.2 561.9Z M831.5 560.5 L831.5 553 L833 553 L833 550.5 L835.5 550.5 L835.5 549.2 L841 549.2 L841 550.5 L843 550.5 L843 554 L844.5 554 L844.5 558.5 L843 558.5 L843 562.8 L834.5 562.8 L834.5 560.5Z M838.8 567.5 L838.8 563.1 L843.2 563.1 L843.2 567.5Z M838.8 548.9 L838.8 544.5 L843.2 544.5 L843.2 548.9Z M616.5 592 L616.5 584.5 L618 584.5 L618 582 L620.5 582 L620.5 580.7 L626 580.7 L626 582 L628 582 L628 585.5 L629.5 585.5 L629.5 590 L628 590 L628 594.3 L619.5 594.3 L619.5 592Z M623.8 599 L623.8 594.6 L628.2 594.6 L628.2 599Z M623.8 580.4 L623.8 576 L628.2 576 L628.2 580.4Z M638 592 L638 584.5 L639.5 584.5 L639.5 582 L642 582 L642 580.7 L647.5 580.7 L647.5 582 L649.5 582 L649.5 585.5 L651 585.5 L651 590 L649.5 590 L649.5 594.3 L641 594.3 L641 592Z M644.8 599 L644.8 594.6 L649.2 594.6 L649.2 599Z M644.8 580.4 L644.8 576 L649.2 576 L649.2 580.4Z M725.5 623 L725.5 630.5 L724 630.5 L724 633 L721.5 633 L721.5 634.3 L716 634.3 L716 633 L714 633 L714 629.5 L712.5 629.5 L712.5 625 L714 625 L714 620.7 L722.5 620.7 L722.5 623Z M717.2 616 L717.2 620.4 L712.8 620.4 L712.8 616Z M717.2 634.6 L717.2 639 L712.8 639 L712.8 634.6Z M741.5 619.5 L741.5 617.2 L750 617.2 L750 621.5 L751.5 621.5 L751.5 626 L750 626 L750 629.5 L748 629.5 L748 630.8 L742.5 630.8 L742.5 629.5 L740 629.5 L740 627 L738.5 627 L738.5 619.5Z M750.2 612.5 L750.2 616.9 L745.8 616.9 L745.8 612.5Z M750.2 631.1 L750.2 635.5 L745.8 635.5 L745.8 631.1Z M781.5 613 L781.5 620.5 L780 620.5 L780 623 L777.5 623 L777.5 624.3 L772 624.3 L772 623 L770 623 L770 619.5 L768.5 619.5 L768.5 615 L770 615 L770 610.7 L778.5 610.7 L778.5 613Z M770.2 606 L770.2 610.4 L765.8 610.4 L765.8 606Z M770.2 624.6 L770.2 629 L765.8 629 L765.8 624.6Z M806.4 602.5 L805.3 600.5 L812.9 596.7 L814.9 600.5 L816.2 599.9 L818.2 603.9 L816.9 604.6 L818.4 607.7 L816.6 608.6 L817.2 609.7 L812.3 612.2 L811.7 611 L809.5 612.2 L808.4 609.9 L807 610.6 L803.7 603.9Z M808.3 593.7 L810.3 597.7 L806.4 599.6 L804.4 595.7Z M816.6 610.4 L818.6 614.3 L814.7 616.3 L812.7 612.3Z M851.3 586.8 L855.1 593.3 L853.8 594.1 L855.1 596.2 L852.9 597.5 L853.6 598.6 L848.9 601.4 L848.2 600.3 L846.5 601.3 L844.7 598.3 L843.4 599 L841.1 595.1 L842.4 594.4 L840.2 590.7 L847.6 586.4 L848.7 588.3Z M844.1 583 L846.3 586.8 L842.5 589 L840.3 585.2Z M853.5 599 L855.7 602.8 L851.9 605 L849.7 601.2Z M688.5 623 L688.5 630.5 L687 630.5 L687 633 L684.5 633 L684.5 634.3 L679 634.3 L679 633 L677 633 L677 629.5 L675.5 629.5 L675.5 625 L677 625 L677 620.7 L685.5 620.7 L685.5 623Z M680.2 616 L680.2 620.4 L675.8 620.4 L675.8 616Z M680.2 634.6 L680.2 639 L675.8 639 L675.8 634.6Z M656 623 L656 630.5 L654.5 630.5 L654.5 633 L652 633 L652 634.3 L646.5 634.3 L646.5 633 L644.5 633 L644.5 629.5 L643 629.5 L643 625 L644.5 625 L644.5 620.7 L653 620.7 L653 623Z M649.2 616 L649.2 620.4 L644.8 620.4 L644.8 616Z M649.2 634.6 L649.2 639 L644.8 639 L644.8 634.6Z M609.5 619.5 L609.5 627 L608 627 L608 629.5 L605.5 629.5 L605.5 630.8 L600 630.8 L600 629.5 L598 629.5 L598 626 L596.5 626 L596.5 621.5 L598 621.5 L598 617.2 L606.5 617.2 L606.5 619.5Z M602.2 612.5 L602.2 616.9 L597.8 616.9 L597.8 612.5Z M602.2 631.1 L602.2 635.5 L597.8 635.5 L597.8 631.1Z M576.5 625.5 L569 625.5 L569 624 L566.5 624 L566.5 621.5 L565.2 621.5 L565.2 616 L566.5 616 L566.5 614 L570 614 L570 612.5 L574.5 612.5 L574.5 614 L578.8 614 L578.8 622.5 L576.5 622.5Z M583.5 616.2 L579.1 616.2 L579.1 611.8 L583.5 611.8Z M564.9 616.2 L560.5 616.2 L560.5 611.8 L564.9 611.8Z M585.5 496.5 L578 496.5 L578 495 L575.5 495 L575.5 492.5 L574.2 492.5 L574.2 487 L575.5 487 L575.5 485 L579 485 L579 483.5 L583.5 483.5 L583.5 485 L587.8 485 L587.8 493.5 L585.5 493.5Z M592.5 488.2 L588.1 488.2 L588.1 483.8 L592.5 483.8Z M573.9 488.2 L569.5 488.2 L569.5 483.8 L573.9 483.8Z M579 521.5 L581.3 521.5 L581.3 530 L577 530 L577 531.5 L572.5 531.5 L572.5 530 L569 530 L569 528 L567.7 528 L567.7 522.5 L569 522.5 L569 520 L571.5 520 L571.5 518.5 L579 518.5Z M586 534.2 L581.6 534.2 L581.6 529.8 L586 529.8Z M567.4 534.2 L563 534.2 L563 529.8 L567.4 529.8Z M585.5 441.5 L578 441.5 L578 440 L575.5 440 L575.5 437.5 L574.2 437.5 L574.2 432 L575.5 432 L575.5 430 L579 430 L579 428.5 L583.5 428.5 L583.5 430 L587.8 430 L587.8 438.5 L585.5 438.5Z M592.5 434.7 L588.1 434.7 L588.1 430.3 L592.5 430.3Z M573.9 434.7 L569.5 434.7 L569.5 430.3 L573.9 430.3Z M470.5 515.5 L470.5 517.8 L462 517.8 L462 513.5 L460.5 513.5 L460.5 509 L462 509 L462 505.5 L464 505.5 L464 504.2 L469.5 504.2 L469.5 505.5 L472 505.5 L472 508 L473.5 508 L473.5 515.5Z M457.8 522.5 L457.8 518.1 L462.2 518.1 L462.2 522.5Z M457.8 503.9 L457.8 499.5 L462.2 499.5 L462.2 503.9Z M503 534.5 L503 536.8 L494.5 536.8 L494.5 532.5 L493 532.5 L493 528 L494.5 528 L494.5 524.5 L496.5 524.5 L496.5 523.2 L502 523.2 L502 524.5 L504.5 524.5 L504.5 527 L506 527 L506 534.5Z M492.8 541.5 L492.8 537.1 L497.2 537.1 L497.2 541.5Z M492.8 522.9 L492.8 518.5 L497.2 518.5 L497.2 522.9Z M555.5 564.5 L555.5 566.8 L547 566.8 L547 562.5 L545.5 562.5 L545.5 558 L547 558 L547 554.5 L549 554.5 L549 553.2 L554.5 553.2 L554.5 554.5 L557 554.5 L557 557 L558.5 557 L558.5 564.5Z M544.8 571.5 L544.8 567.1 L549.2 567.1 L549.2 571.5Z M544.8 552.9 L544.8 548.5 L549.2 548.5 L549.2 552.9Z M374.6 510.4 L378.1 517 L376.8 517.7 L378 519.9 L375.8 521.1 L376.5 522.3 L371.6 524.9 L371 523.8 L369.2 524.7 L367.6 521.7 L366.3 522.4 L364.1 518.4 L365.4 517.7 L363.4 513.9 L370.8 509.9 L371.9 511.9Z M367.4 506.4 L369.5 510.2 L365.7 512.3 L363.6 508.5Z M376.3 522.7 L378.4 526.5 L374.6 528.6 L372.5 524.8Z M402.5 521.5 L402.5 519.2 L411 519.2 L411 523.5 L412.5 523.5 L412.5 528 L411 528 L411 531.5 L409 531.5 L409 532.8 L403.5 532.8 L403.5 531.5 L401 531.5 L401 529 L399.5 529 L399.5 521.5Z M411.2 514.5 L411.2 518.9 L406.8 518.9 L406.8 514.5Z M411.2 533.1 L411.2 537.5 L406.8 537.5 L406.8 533.1Z M442.2 542.6 L436.8 547.8 L435.8 546.7 L434 548.4 L432.3 546.6 L431.3 547.5 L427.5 543.5 L428.5 542.6 L427.1 541.2 L429.6 538.8 L428.6 537.7 L431.8 534.6 L432.8 535.7 L435.9 532.7 L441.8 538.8 L440.2 540.4Z M444.3 534.6 L441.1 537.7 L438.1 534.5 L441.3 531.4Z M430.9 547.5 L427.7 550.6 L424.7 547.4 L427.9 544.3Z M472.3 557.2 L467.1 562.7 L466 561.6 L464.3 563.4 L462.5 561.7 L461.6 562.6 L457.6 558.8 L458.5 557.9 L457.1 556.5 L459.5 554 L458.4 552.9 L461.5 549.7 L462.6 550.7 L465.6 547.6 L471.7 553.5 L470.1 555.2Z M474 549.2 L471 552.4 L467.8 549.4 L470.9 546.2Z M461.2 562.6 L458.1 565.8 L455 562.8 L458 559.6Z M497.1 573 L491.5 577.9 L490.5 576.7 L488.6 578.4 L487 576.5 L486 577.3 L482.4 573.1 L483.4 572.3 L482.1 570.8 L484.7 568.5 L483.8 567.4 L487.2 564.4 L488.1 565.6 L491.4 562.8 L496.9 569.2 L495.2 570.7Z M499.7 565.2 L496.3 568 L493.5 564.7 L496.8 561.8Z M485.5 577.3 L482.2 580.2 L479.3 576.8 L482.7 574Z M363 666 L363 658.5 L364.5 658.5 L364.5 656 L367 656 L367 654.7 L372.5 654.7 L372.5 656 L374.5 656 L374.5 659.5 L376 659.5 L376 664 L374.5 664 L374.5 668.3 L366 668.3 L366 666Z M374.8 673 L374.8 668.6 L379.2 668.6 L379.2 673Z M374.8 654.4 L374.8 650 L379.2 650 L379.2 654.4Z M395.9 660 L392.4 653.4 L393.7 652.7 L392.5 650.5 L394.7 649.3 L394.1 648.2 L399 645.6 L399.6 646.7 L401.3 645.8 L403 648.9 L404.3 648.2 L406.4 652.2 L405.1 652.9 L407.1 656.7 L399.6 660.6 L398.5 658.6Z M403 664.2 L400.9 660.3 L404.8 658.2 L406.8 662.1Z M394.2 647.8 L392.2 643.9 L396 641.8 L398.1 645.7Z M428.7 653.7 L424.9 647.2 L426.2 646.5 L424.9 644.3 L427 643 L426.4 641.9 L431.1 639.1 L431.8 640.2 L433.5 639.2 L435.3 642.2 L436.6 641.5 L438.9 645.3 L437.6 646.1 L439.8 649.8 L432.5 654.1 L431.3 652.2Z M436 657.5 L433.7 653.7 L437.5 651.5 L439.8 655.3Z M426.5 641.5 L424.2 637.7 L428 635.5 L430.3 639.3Z M458 643.5 L458 636 L459.5 636 L459.5 633.5 L462 633.5 L462 632.2 L467.5 632.2 L467.5 633.5 L469.5 633.5 L469.5 637 L471 637 L471 641.5 L469.5 641.5 L469.5 645.8 L461 645.8 L461 643.5Z M462.8 650.5 L462.8 646.1 L467.2 646.1 L467.2 650.5Z M462.8 631.9 L462.8 627.5 L467.2 627.5 L467.2 631.9Z M388.9 689.2 L393.1 695.4 L391.8 696.2 L393.2 698.3 L391.1 699.7 L391.9 700.8 L387.3 703.8 L386.6 702.7 L384.9 703.8 L382.9 700.9 L381.7 701.8 L379.2 698 L380.5 697.2 L378.1 693.6 L385.1 688.9 L386.4 690.8Z M381.5 685.7 L383.9 689.4 L380.2 691.8 L377.8 688.2Z M391.8 701.2 L394.2 704.8 L390.5 707.3 L388.1 703.6Z M416.5 678.5 L424 678.5 L424 680 L426.5 680 L426.5 682.5 L427.8 682.5 L427.8 688 L426.5 688 L426.5 690 L423 690 L423 691.5 L418.5 691.5 L418.5 690 L414.2 690 L414.2 681.5 L416.5 681.5Z M409.5 689.8 L413.9 689.8 L413.9 694.2 L409.5 694.2Z M428.1 689.8 L432.5 689.8 L432.5 694.2 L428.1 694.2Z M491 667 L491 674.5 L489.5 674.5 L489.5 677 L487 677 L487 678.3 L481.5 678.3 L481.5 677 L479.5 677 L479.5 673.5 L478 673.5 L478 669 L479.5 669 L479.5 664.7 L488 664.7 L488 667Z M486.2 660 L486.2 664.4 L481.8 664.4 L481.8 660Z M486.2 678.6 L486.2 683 L481.8 683 L481.8 678.6Z M526 654.5 L526 662 L524.5 662 L524.5 664.5 L522 664.5 L522 665.8 L516.5 665.8 L516.5 664.5 L514.5 664.5 L514.5 661 L513 661 L513 656.5 L514.5 656.5 L514.5 652.2 L523 652.2 L523 654.5Z M519.2 647.5 L519.2 651.9 L514.8 651.9 L514.8 647.5Z M519.2 666.1 L519.2 670.5 L514.8 670.5 L514.8 666.1Z M401 730.5 L401 728.2 L409.5 728.2 L409.5 732.5 L411 732.5 L411 737 L409.5 737 L409.5 740.5 L407.5 740.5 L407.5 741.8 L402 741.8 L402 740.5 L399.5 740.5 L399.5 738 L398 738 L398 730.5Z M412.2 723.5 L412.2 727.9 L407.8 727.9 L407.8 723.5Z M412.2 742.1 L412.2 746.5 L407.8 746.5 L407.8 742.1Z M431.7 717.2 L438.5 720.4 L437.8 721.7 L440.1 722.8 L439 725.1 L440.2 725.6 L437.9 730.6 L436.7 730 L435.9 731.9 L432.7 730.4 L432.1 731.7 L428 729.8 L428.6 728.5 L424.7 726.7 L428.3 719 L430.4 719.9Z M423.5 718.1 L427.5 720 L425.6 724 L421.6 722.1Z M440.4 726 L444.4 727.9 L442.5 731.9 L438.5 730Z M585.9 668.4 L582.1 674.9 L580.8 674.1 L579.5 676.3 L577.4 675 L576.7 676.1 L572 673.3 L572.6 672.2 L570.9 671.2 L572.7 668.2 L571.4 667.4 L573.7 663.5 L575 664.3 L577.1 660.6 L584.5 664.9 L583.3 666.9Z M585.7 660.2 L583.5 664 L579.7 661.8 L581.9 658Z M576.3 676.2 L574.1 680 L570.3 677.8 L572.5 674Z M610.5 652.1 L616.9 656 L616.1 657.3 L618.3 658.5 L617 660.7 L618.1 661.4 L615.3 666.1 L614.2 665.4 L613.1 667.1 L610.1 665.3 L609.4 666.6 L605.5 664.3 L606.3 663 L602.6 660.8 L607 653.5 L608.9 654.7Z M602.3 652.2 L606 654.5 L603.8 658.2 L600 656Z M618.2 661.8 L622 664 L619.7 667.8 L616 665.5Z M201 532.8 L197.8 526.1 L199.2 525.4 L198.1 523.2 L200.4 522.1 L199.8 520.9 L204.8 518.6 L205.4 519.7 L207.2 518.9 L208.7 522.1 L210 521.4 L211.9 525.5 L210.6 526.1 L212.4 530 L204.7 533.6 L203.7 531.6Z M207.9 537.3 L206 533.4 L210 531.5 L211.9 535.5Z M200 520.5 L198.1 516.5 L202.1 514.7 L204 518.6Z M240 522.8 L236.8 516 L238.2 515.4 L237.1 513.1 L239.4 512.1 L238.9 510.9 L243.9 508.6 L244.4 509.7 L246.2 508.9 L247.7 512.1 L249.1 511.4 L250.9 515.5 L249.6 516.2 L251.4 520.1 L243.7 523.6 L242.7 521.6Z M246.8 527.4 L245 523.4 L249 521.5 L250.8 525.5Z M239 510.5 L237.2 506.5 L241.2 504.6 L243 508.6Z M284.1 506.5 L285.1 508.6 L277.5 512.3 L275.6 508.4 L274.2 509.1 L272.3 505 L273.6 504.4 L272.1 501.2 L273.9 500.4 L273.3 499.2 L278.3 496.8 L278.9 498 L281.1 496.9 L282.2 499.1 L283.5 498.5 L286.8 505.2Z M282 515.3 L280.1 511.3 L284.1 509.4 L286 513.4Z M273.9 498.6 L272 494.6 L276 492.7 L277.9 496.7Z M310.4 498.1 L306.9 491.5 L308.2 490.8 L307 488.6 L309.2 487.4 L308.5 486.2 L313.4 483.6 L314 484.7 L315.8 483.8 L317.4 486.8 L318.7 486.1 L320.9 490.1 L319.6 490.8 L321.6 494.6 L314.2 498.6 L313.1 496.6Z M317.6 502.1 L315.5 498.3 L319.3 496.2 L321.4 500Z M308.7 485.8 L306.6 482 L310.4 479.9 L312.5 483.7Z M327.5 521.5 L327.5 519.2 L336 519.2 L336 523.5 L337.5 523.5 L337.5 528 L336 528 L336 531.5 L334 531.5 L334 532.8 L328.5 532.8 L328.5 531.5 L326 531.5 L326 529 L324.5 529 L324.5 521.5Z M333.2 514.5 L333.2 518.9 L328.8 518.9 L328.8 514.5Z M333.2 533.1 L333.2 537.5 L328.8 537.5 L328.8 533.1Z M285.5 598.5 L293 598.5 L293 600 L295.5 600 L295.5 602.5 L296.8 602.5 L296.8 608 L295.5 608 L295.5 610 L292 610 L292 611.5 L287.5 611.5 L287.5 610 L283.2 610 L283.2 601.5 L285.5 601.5Z M278.5 608.8 L282.9 608.8 L282.9 613.2 L278.5 613.2Z M297.1 608.8 L301.5 608.8 L301.5 613.2 L297.1 613.2Z M210.5 561.7 L214.6 568 L213.3 568.8 L214.7 570.9 L212.6 572.2 L213.3 573.3 L208.7 576.3 L208 575.2 L206.3 576.3 L204.4 573.4 L203.2 574.2 L200.7 570.5 L201.9 569.6 L199.6 566 L206.7 561.4 L208 563.3Z M203 558.2 L205.5 561.9 L201.8 564.3 L199.4 560.6Z M213.2 573.7 L215.6 577.4 L212 579.8 L209.5 576.1Z M232.1 558.1 L230.9 556.1 L238.1 551.6 L240.4 555.2 L241.7 554.4 L244.1 558.2 L242.8 559 L244.7 562 L243 563 L243.7 564.1 L239 567.1 L238.3 566 L236.2 567.3 L234.9 565.2 L233.6 566 L229.6 559.7Z M233.2 549.1 L235.6 552.8 L231.8 555.2 L229.5 551.5Z M243.2 564.8 L245.5 568.5 L241.8 570.9 L239.4 567.2Z M256 638.5 L256 640.8 L247.5 640.8 L247.5 636.5 L246 636.5 L246 632 L247.5 632 L247.5 628.5 L249.5 628.5 L249.5 627.2 L255 627.2 L255 628.5 L257.5 628.5 L257.5 631 L259 631 L259 638.5Z M248.3 645.5 L248.3 641.1 L252.7 641.1 L252.7 645.5Z M248.3 626.9 L248.3 622.5 L252.7 622.5 L252.7 626.9Z M217.5 647 L217.5 639.5 L219 639.5 L219 637 L221.5 637 L221.5 635.7 L227 635.7 L227 637 L229 637 L229 640.5 L230.5 640.5 L230.5 645 L229 645 L229 649.3 L220.5 649.3 L220.5 647Z M222.3 654 L222.3 649.6 L226.7 649.6 L226.7 654Z M222.3 635.4 L222.3 631 L226.7 631 L226.7 635.4Z M204.6 651.9 L206.2 653.6 L199.9 659.4 L197 656.2 L195.9 657.2 L192.9 653.9 L194 652.9 L191.6 650.3 L193.1 649 L192.2 648 L196.2 644.3 L197.1 645.3 L198.9 643.6 L200.6 645.4 L201.7 644.4 L206.8 649.9Z M205.2 660.9 L202.2 657.7 L205.4 654.7 L208.4 658Z M192.6 647.3 L189.6 644 L192.8 641.1 L195.8 644.3Z M205.5 684.5 L205.5 682.2 L214 682.2 L214 686.5 L215.5 686.5 L215.5 691 L214 691 L214 694.5 L212 694.5 L212 695.8 L206.5 695.8 L206.5 694.5 L204 694.5 L204 692 L202.5 692 L202.5 684.5Z M215.2 677.5 L215.2 681.9 L210.8 681.9 L210.8 677.5Z M215.2 696.1 L215.2 700.5 L210.8 700.5 L210.8 696.1Z M248.9 669.6 L252.2 676.4 L250.8 677 L251.9 679.3 L249.6 680.4 L250.2 681.5 L245.3 683.9 L244.7 682.8 L242.9 683.6 L241.4 680.5 L240 681.1 L238.1 677.1 L239.4 676.4 L237.5 672.5 L245.2 668.9 L246.2 670.9Z M242 665.2 L243.9 669.1 L239.9 671.1 L238 667.1Z M250.1 681.9 L252 685.9 L248 687.8 L246.1 683.9Z M270.5 662 L270.5 659.7 L279 659.7 L279 664 L280.5 664 L280.5 668.5 L279 668.5 L279 672 L277 672 L277 673.3 L271.5 673.3 L271.5 672 L269 672 L269 669.5 L267.5 669.5 L267.5 662Z M277.2 655 L277.2 659.4 L272.8 659.4 L272.8 655Z M277.2 673.6 L277.2 678 L272.8 678 L272.8 673.6Z M315.1 158.7 L330.1 166.6 L324.9 176.3 L309.9 168.4Z M326.4 161.3 L329.9 163.1 L328 166.7 L324.5 164.8Z M327.8 160.7 L331.7 162.7 L329.7 166.6 L325.8 164.6Z M265.4 217 L280.1 225.5 L274.6 235 L259.9 226.5Z M276.6 220 L280 222 L278 225.4 L274.6 223.4Z M263 212.7 L266.8 214.9 L264.6 218.7 L260.8 216.5Z M436 203.2 L446.9 203.8 L446 220.8 L435.1 220.2Z M442.6 200.6 L446.6 200.8 L446.4 204.8 L442.4 204.6Z M431.9 199.6 L436.3 199.8 L436.1 204.2 L431.7 204Z M430 251.2 L440.9 251.8 L440 268.8 L429.1 268.2Z M436.6 248.6 L440.6 248.8 L440.4 252.8 L436.4 252.6Z M425.9 247.4 L430.3 247.6 L430.1 252 L425.7 251.8Z M426.3 283.6 L437.2 284.5 L435.7 301.4 L424.8 300.5Z M433 281.1 L437 281.5 L436.7 285.5 L432.7 285.1Z M422.4 279.8 L426.8 280.2 L426.4 284.6 L422 284.2Z M569.5 201 L580.5 201 L580.5 217 L569.5 217Z M576 198 L580 198 L580 202 L576 202Z M580.3 218.8 L584.7 218.8 L584.7 223.2 L580.3 223.2Z M566.5 263 L577.5 263 L577.5 279 L566.5 279Z M573 260 L577 260 L577 264 L573 264Z M577.3 276.8 L581.7 276.8 L581.7 281.2 L577.3 281.2Z M571 328 L585 328 L585 340 L571 340Z M579.9 325 L583.9 325 L583.9 329 L579.9 329Z M567.3 339.8 L571.7 339.8 L571.7 344.2 L567.3 344.2Z M570 374 L584 374 L584 386 L570 386Z M578.9 371 L582.9 371 L582.9 375 L578.9 375Z M582.3 369.8 L586.7 369.8 L586.7 374.2 L582.3 374.2Z M404.9 337.9 L419 330.4 L424.1 340.1 L410 347.6Z M412.6 330.4 L416.2 328.5 L418 332 L414.5 333.9Z M419.6 332 L423.5 329.9 L425.5 333.8 L421.7 335.9Z M243.1 402.2 L256.9 394.2 L261.9 402.8 L248.1 410.8Z M250.6 394.4 L254 392.4 L256 395.8 L252.6 397.8Z M260.5 400.8 L264.3 398.6 L266.5 402.4 L262.7 404.6Z M271.7 576.2 L286.9 571.3 L290.3 581.8 L275.1 586.7Z M280.7 570.2 L284.5 568.9 L285.7 572.7 L281.9 574Z M266.7 574.3 L270.8 573 L272.2 577.1 L268 578.5Z M333.8 668.7 L349.7 666.4 L351.2 677.3 L335.3 679.6Z M343.7 664.2 L347.7 663.7 L348.2 667.7 L344.3 668.2Z M332.6 679.7 L337 679.1 L337.6 683.5 L333.2 684.1Z M525 582.4 L539.1 589.9 L534 599.6 L519.9 592.1Z M535.6 584.6 L539.1 586.5 L537.3 590 L533.7 588.2Z M538.1 584.6 L542 586.7 L539.9 590.6 L536.1 588.5Z M867.4 572.4 L876.6 559.3 L885.6 565.6 L876.4 578.7Z M870.9 562.2 L873.2 558.9 L876.5 561.2 L874.2 564.5Z M871.5 559.2 L874.1 555.6 L877.7 558.1 L875.1 561.7Z M115.7 408.6 L120.5 403.8 L127.7 408.6 L126.2 412.4 L141.5 421.9 L143.4 418.6 L149.6 422.9 L146.2 428.1 L142 425.3 L129.1 447.7 L111 436.2 L114.8 429.6 L113.8 425.8 L121.5 417.2 L122.9 415.7Z" fill="#fbfffe"/><path d="M141.5 421.9 L127 445.5" stroke="#e9b9b0" stroke-width="0.5"/>
<defs><g id="td"><circle r="5.3" fill="#d2fbf5"/><path d="M0.9 0.2 L4.9 0.9 A5 5 0 0 1 -1.7 4.7 L-0.3 0.8Z M-0.7 1.1 L-2.9 4.1 A5 5 0 0 1 -4.4 2.3 L-1.1 0.6Z M-1.3 0.3 L-4.8 1.3 A5 5 0 0 1 -4.9 -1 L-1.3 -0.3Z M-1.2 -0.5 L-4.5 -2.1 A5 5 0 0 1 -3.1 -3.9 L-0.8 -1Z M-0.5 -1.2 L-2.1 -4.5 A5 5 0 0 1 0.2 -5 L0 -1.3Z M0.3 -1.3 L1.3 -4.8 A5 5 0 0 1 3.3 -3.7 L0.9 -1Z M1 -0.8 L3.9 -3.1 A5 5 0 0 1 4.9 -1 L1.3 -0.2Z" fill="#2b9f8c"/></g><g id="tp"><circle r="7.3" fill="#f6fcfb"/><path d="M0.9 0.2 L6.2 1.1 A6.3 6.3 0 0 1 -2.2 5.9 L-0.3 0.8Z M-0.7 1.1 L-3.6 5.2 A6.3 6.3 0 0 1 -5.6 3 L-1.1 0.6Z M-1.3 0.3 L-6.1 1.6 A6.3 6.3 0 0 1 -6.2 -1.3 L-1.3 -0.3Z M-1.2 -0.5 L-5.7 -2.7 A6.3 6.3 0 0 1 -3.9 -5 L-0.8 -1Z M-0.5 -1.2 L-2.7 -5.7 A6.3 6.3 0 0 1 0.2 -6.3 L0 -1.3Z M0.3 -1.3 L1.6 -6.1 A6.3 6.3 0 0 1 4.2 -4.7 L0.9 -1Z M1 -0.8 L5 -3.9 A6.3 6.3 0 0 1 6.2 -1.2 L1.3 -0.2Z" fill="#d3e7e2"/></g><g id="pd"><circle r="6.2" fill="#f4fffd"/><path d="M0.9 0.2 L4.9 0.9 A5 5 0 0 1 -1.7 4.7 L-0.3 0.8Z M-0.7 1.1 L-2.9 4.1 A5 5 0 0 1 -4.4 2.3 L-1.1 0.6Z M-1.3 0.3 L-4.8 1.3 A5 5 0 0 1 -4.9 -1 L-1.3 -0.3Z M-1.2 -0.5 L-4.5 -2.1 A5 5 0 0 1 -3.1 -3.9 L-0.8 -1Z M-0.5 -1.2 L-2.1 -4.5 A5 5 0 0 1 0.2 -5 L0 -1.3Z M0.3 -1.3 L1.3 -4.8 A5 5 0 0 1 3.3 -3.7 L0.9 -1Z M1 -0.8 L3.9 -3.1 A5 5 0 0 1 4.9 -1 L1.3 -0.2Z" fill="#2b9f8c"/></g><g id="pp"><circle r="8.2" fill="#f6fffd"/><path d="M0.9 0.2 L6.9 1.2 A7 7 0 0 1 -2.4 6.6 L-0.3 0.8Z M-0.7 1.1 L-4 5.7 A7 7 0 0 1 -6.2 3.3 L-1.1 0.6Z M-1.3 0.3 L-6.8 1.8 A7 7 0 0 1 -6.8 -1.5 L-1.3 -0.3Z M-1.2 -0.5 L-6.3 -3 A7 7 0 0 1 -4.3 -5.5 L-0.8 -1Z M-0.5 -1.2 L-3 -6.3 A7 7 0 0 1 0.2 -7 L0 -1.3Z M0.3 -1.3 L1.8 -6.8 A7 7 0 0 1 4.7 -5.2 L0.9 -1Z M1 -0.8 L5.5 -4.3 A7 7 0 0 1 6.9 -1.3 L1.3 -0.2Z" fill="#cfe9e2"/></g></defs><use href="#tp" transform="translate(403 59) rotate(150)"/><use href="#tp" transform="translate(376 77.5) rotate(60)"/><use href="#tp" transform="translate(413 75) rotate(180)"/><use href="#tp" transform="translate(439.5 72.5) rotate(300)"/><use href="#tp" transform="translate(471 74) rotate(15)"/><use href="#tp" transform="translate(454.5 84) rotate(30)"/><use href="#tp" transform="translate(441 96) rotate(255)"/><use href="#tp" transform="translate(471 96) rotate(45)"/><use href="#tp" transform="translate(488 97.5) rotate(165)"/><use href="#tp" transform="translate(521 72.5) rotate(270)"/><use href="#tp" transform="translate(522 89) rotate(15)"/><use href="#tp" transform="translate(502 112.5) rotate(240)"/><use href="#tp" transform="translate(517 107.5) rotate(90)"/><use href="#tp" transform="translate(559.5 66) rotate(15)"/><use href="#tp" transform="translate(567 87.5) rotate(30)"/><use href="#tp" transform="translate(581 60) rotate(195)"/><use href="#tp" transform="translate(601 75) rotate(195)"/><use href="#tp" transform="translate(629.5 64) rotate(30)"/><use href="#tp" transform="translate(632 81) rotate(105)"/><use href="#tp" transform="translate(649.5 62.5) rotate(30)"/><use href="#tp" transform="translate(684.5 65) rotate(255)"/><use href="#tp" transform="translate(378 107.5) rotate(195)"/><use href="#tp" transform="translate(359.5 102.5) rotate(15)"/><use href="#tp" transform="translate(398 102.5) rotate(270)"/><use href="#tp" transform="translate(447 112.5) rotate(45)"/><use href="#tp" transform="translate(741.5 52.5) rotate(105)"/><use href="#tp" transform="translate(726.5 65) rotate(300)"/><use href="#tp" transform="translate(756.5 65) rotate(300)"/><use href="#tp" transform="translate(775 69) rotate(270)"/><use href="#tp" transform="translate(809 49) rotate(15)"/><use href="#tp" transform="translate(808 65) rotate(270)"/><use href="#tp" transform="translate(803 82.5) rotate(270)"/><use href="#tp" transform="translate(855 47.5) rotate(180)"/><use href="#tp" transform="translate(853 66) rotate(15)"/><use href="#tp" transform="translate(848 82.5) rotate(105)"/><use href="#tp" transform="translate(844 101) rotate(15)"/><use href="#tp" transform="translate(896.5 67.5) rotate(255)"/><use href="#tp" transform="translate(891.5 85) rotate(60)"/><use href="#tp" transform="translate(891.5 101) rotate(135)"/><use href="#tp" transform="translate(925 80) rotate(195)"/><use href="#tp" transform="translate(944 84) rotate(60)"/><use href="#tp" transform="translate(940 105) rotate(255)"/><use href="#tp" transform="translate(959 97.5) rotate(45)"/><use href="#tp" transform="translate(973 86) rotate(270)"/><use href="#tp" transform="translate(973 107.5) rotate(135)"/><use href="#tp" transform="translate(999 110) rotate(255)"/><use href="#tp" transform="translate(1016.5 84) rotate(315)"/><use href="#tp" transform="translate(1006.5 127.5) rotate(75)"/><use href="#tp" transform="translate(928 135) rotate(45)"/><use href="#tp" transform="translate(297.5 72.5) rotate(270)"/><use href="#tp" transform="translate(309 87.5) rotate(270)"/><use href="#tp" transform="translate(341 61) rotate(300)"/><use href="#tp" transform="translate(335 77.5) rotate(90)"/><use href="#tp" transform="translate(295 109) rotate(165)"/><use href="#tp" transform="translate(281 117.5) rotate(45)"/><use href="#tp" transform="translate(270 127.5) rotate(255)"/><use href="#tp" transform="translate(250 151) rotate(330)"/><use href="#tp" transform="translate(244 169) rotate(30)"/><use href="#tp" transform="translate(266 164) rotate(270)"/><use href="#tp" transform="translate(239 196) rotate(15)"/><use href="#tp" transform="translate(202.5 211) rotate(285)"/><use href="#tp" transform="translate(234 219) rotate(90)"/><use href="#tp" transform="translate(200 230) rotate(225)"/><use href="#tp" transform="translate(186 261) rotate(315)"/><use href="#tp" transform="translate(201 271) rotate(255)"/><use href="#tp" transform="translate(179 277.5) rotate(195)"/><use href="#tp" transform="translate(146 286) rotate(150)"/><use href="#tp" transform="translate(156 306) rotate(210)"/><use href="#tp" transform="translate(174 304) rotate(270)"/><use href="#tp" transform="translate(145 317.5) rotate(210)"/><use href="#tp" transform="translate(142.5 336) rotate(165)"/><use href="#tp" transform="translate(132.5 352.5) rotate(135)"/><use href="#tp" transform="translate(121 366) rotate(105)"/><use href="#tp" transform="translate(67.5 344) rotate(75)"/><use href="#tp" transform="translate(84 357.5) rotate(330)"/><use href="#tp" transform="translate(96 370) rotate(105)"/><use href="#tp" transform="translate(56 375) rotate(30)"/><use href="#tp" transform="translate(69 382.5) rotate(270)"/><use href="#tp" transform="translate(82.5 395) rotate(135)"/><use href="#tp" transform="translate(27.5 417.5) rotate(240)"/><use href="#tp" transform="translate(45 429) rotate(225)"/><use href="#tp" transform="translate(26 437.5) rotate(150)"/><use href="#tp" transform="translate(10 444) rotate(345)"/><use href="#tp" transform="translate(31 454) rotate(210)"/><use href="#tp" transform="translate(54 495) rotate(135)"/><use href="#tp" transform="translate(71 487.5) rotate(285)"/><use href="#tp" transform="translate(86 531) rotate(30)"/><use href="#tp" transform="translate(86 549) rotate(45)"/><use href="#tp" transform="translate(65 555) rotate(240)"/><use href="#tp" transform="translate(57.5 571) rotate(195)"/><use href="#tp" transform="translate(120 560) rotate(75)"/><use href="#tp" transform="translate(112.5 576) rotate(150)"/><use href="#tp" transform="translate(94 594) rotate(60)"/><use href="#tp" transform="translate(55 610) rotate(225)"/><use href="#tp" transform="translate(86 610) rotate(195)"/><use href="#tp" transform="translate(47.5 626) rotate(15)"/><use href="#tp" transform="translate(94 626) rotate(315)"/><use href="#tp" transform="translate(106 632.5) rotate(30)"/><use href="#tp" transform="translate(117.5 647.5) rotate(255)"/><use href="#tp" transform="translate(82.5 655) rotate(270)"/><use href="#tp" transform="translate(116 649) rotate(150)"/><use href="#tp" transform="translate(135 665) rotate(150)"/><use href="#tp" transform="translate(97.5 675) rotate(330)"/><use href="#tp" transform="translate(115 681.5) rotate(165)"/><use href="#tp" transform="translate(90 696.5) rotate(285)"/><use href="#tp" transform="translate(109 696.5) rotate(225)"/><use href="#tp" transform="translate(150 703) rotate(270)"/><use href="#tp" transform="translate(129 715) rotate(210)"/><use href="#tp" transform="translate(172.5 728) rotate(30)"/><use href="#tp" transform="translate(125 734) rotate(30)"/><use href="#tp" transform="translate(174 748) rotate(120)"/><use href="#tp" transform="translate(90 753) rotate(225)"/><use href="#tp" transform="translate(197.5 759) rotate(330)"/><use href="#tp" transform="translate(205 775) rotate(315)"/><use href="#tp" transform="translate(225 775) rotate(30)"/><use href="#tp" transform="translate(187.5 780) rotate(15)"/><use href="#tp" transform="translate(215 793) rotate(345)"/><use href="#tp" transform="translate(230 804) rotate(330)"/><use href="#tp" transform="translate(242.5 726.5) rotate(135)"/><use href="#tp" transform="translate(255 740) rotate(300)"/><use href="#tp" transform="translate(287.5 721.5) rotate(270)"/><use href="#tp" transform="translate(285 739) rotate(315)"/><use href="#tp" transform="translate(307.5 746.5) rotate(210)"/><use href="#tp" transform="translate(270 759) rotate(135)"/><use href="#tp" transform="translate(304 765) rotate(330)"/><use href="#tp" transform="translate(334 755) rotate(180)"/><use href="#tp" transform="translate(265 779) rotate(315)"/><use href="#tp" transform="translate(270 796.5) rotate(165)"/><use href="#tp" transform="translate(262.5 813) rotate(0)"/><use href="#tp" transform="translate(315 789) rotate(210)"/><use href="#tp" transform="translate(312.5 808) rotate(165)"/><use href="#tp" transform="translate(345 804) rotate(75)"/><use href="#tp" transform="translate(320 710) rotate(285)"/><use href="#tp" transform="translate(367 760) rotate(45)"/><use href="#tp" transform="translate(363 778) rotate(225)"/><use href="#tp" transform="translate(386 784) rotate(15)"/><use href="#tp" transform="translate(359.5 791.5) rotate(90)"/><use href="#tp" transform="translate(382 801.5) rotate(135)"/><use href="#tp" transform="translate(423 793) rotate(60)"/><use href="#tp" transform="translate(427 811.5) rotate(345)"/><use href="#tp" transform="translate(447 791.5) rotate(105)"/><use href="#tp" transform="translate(451 774) rotate(180)"/><use href="#tp" transform="translate(469.5 763) rotate(180)"/><use href="#tp" transform="translate(477 745) rotate(225)"/><use href="#tp" transform="translate(494.5 766.5) rotate(30)"/><use href="#tp" transform="translate(491 784) rotate(75)"/><use href="#tp" transform="translate(504.5 760) rotate(210)"/><use href="#tp" transform="translate(507 743) rotate(180)"/><use href="#tp" transform="translate(518 730) rotate(255)"/><use href="#tp" transform="translate(532 739) rotate(120)"/><use href="#tp" transform="translate(549.5 755) rotate(60)"/><use href="#tp" transform="translate(552 739) rotate(195)"/><use href="#tp" transform="translate(574.5 741.5) rotate(255)"/><use href="#tp" transform="translate(576 723) rotate(120)"/><use href="#tp" transform="translate(612 720) rotate(330)"/><use href="#tp" transform="translate(608 738) rotate(195)"/><use href="#tp" transform="translate(643 706.5) rotate(165)"/><use href="#tp" transform="translate(661 718) rotate(315)"/><use href="#tp" transform="translate(677 709) rotate(180)"/><use href="#tp" transform="translate(644.5 729) rotate(105)"/><use href="#tp" transform="translate(652 746.5) rotate(60)"/><use href="#tp" transform="translate(677 729) rotate(30)"/><use href="#tp" transform="translate(679.5 689) rotate(75)"/><use href="#tp" transform="translate(697 731.5) rotate(60)"/><use href="#tp" transform="translate(826.5 650) rotate(105)"/><use href="#tp" transform="translate(823 669) rotate(315)"/><use href="#tp" transform="translate(808 680) rotate(105)"/><use href="#tp" transform="translate(764 681.5) rotate(0)"/><use href="#tp" transform="translate(719 689) rotate(225)"/><use href="#tp" transform="translate(760 700) rotate(270)"/><use href="#tp" transform="translate(826.5 689) rotate(75)"/><use href="#tp" transform="translate(845 690) rotate(120)"/><use href="#tp" transform="translate(869 675) rotate(135)"/><use href="#tp" transform="translate(888 679) rotate(0)"/><use href="#tp" transform="translate(909 636.5) rotate(60)"/><use href="#tp" transform="translate(910 654) rotate(195)"/><use href="#tp" transform="translate(919 674) rotate(255)"/><use href="#tp" transform="translate(915 690) rotate(165)"/><use href="#tp" transform="translate(894 701.5) rotate(285)"/><use href="#tp" transform="translate(870 719) rotate(270)"/><use href="#tp" transform="translate(891.5 720) rotate(150)"/><use href="#tp" transform="translate(854 726.5) rotate(60)"/><use href="#tp" transform="translate(833 721.5) rotate(330)"/><use href="#tp" transform="translate(790 713) rotate(240)"/><use href="#tp" transform="translate(726.5 705) rotate(285)"/><use href="#tp" transform="translate(728 721.5) rotate(300)"/><use href="#tp" transform="translate(758 720) rotate(315)"/><use href="#tp" transform="translate(786.5 731.5) rotate(345)"/><use href="#tp" transform="translate(754 739) rotate(15)"/><use href="#tp" transform="translate(725 740) rotate(210)"/><use href="#tp" transform="translate(828 739) rotate(315)"/><use href="#tp" transform="translate(806.5 754) rotate(255)"/><use href="#tp" transform="translate(804 771.5) rotate(180)"/><use href="#td" transform="translate(369.5 61) rotate(180)"/><use href="#td" transform="translate(357 69) rotate(180)"/><use href="#td" transform="translate(392 71) rotate(180)"/><use href="#td" transform="translate(453 65) rotate(45)"/><use href="#td" transform="translate(486 65) rotate(225)"/><use href="#td" transform="translate(504.5 71) rotate(300)"/><use href="#td" transform="translate(534.5 66) rotate(180)"/><use href="#td" transform="translate(383 95) rotate(15)"/><use href="#td" transform="translate(406 87.5) rotate(90)"/><use href="#td" transform="translate(418 96) rotate(30)"/><use href="#td" transform="translate(429.5 85) rotate(90)"/><use href="#td" transform="translate(412 112.5) rotate(210)"/><use href="#td" transform="translate(431 112.5) rotate(75)"/><use href="#td" transform="translate(461 109) rotate(45)"/><use href="#td" transform="translate(479.5 110) rotate(150)"/><use href="#td" transform="translate(491 84) rotate(285)"/><use href="#td" transform="translate(507 86) rotate(15)"/><use href="#td" transform="translate(537 85) rotate(45)"/><use href="#td" transform="translate(553 85) rotate(0)"/><use href="#td" transform="translate(534.5 99) rotate(270)"/><use href="#td" transform="translate(553 101) rotate(60)"/><use href="#td" transform="translate(582 79) rotate(255)"/><use href="#td" transform="translate(592 89) rotate(45)"/><use href="#td" transform="translate(597 62.5) rotate(165)"/><use href="#td" transform="translate(618 62.5) rotate(285)"/><use href="#td" transform="translate(613 85) rotate(0)"/><use href="#td" transform="translate(646 75) rotate(30)"/><use href="#td" transform="translate(669.5 56) rotate(90)"/><use href="#td" transform="translate(702 61) rotate(285)"/><use href="#td" transform="translate(356 109) rotate(180)"/><use href="#td" transform="translate(718 51) rotate(60)"/><use href="#td" transform="translate(704 62.5) rotate(300)"/><use href="#td" transform="translate(778 56) rotate(120)"/><use href="#td" transform="translate(794 61) rotate(165)"/><use href="#td" transform="translate(824 62.5) rotate(285)"/><use href="#td" transform="translate(840 57.5) rotate(165)"/><use href="#td" transform="translate(819 76) rotate(225)"/><use href="#td" transform="translate(833 80) rotate(45)"/><use href="#td" transform="translate(866.5 70) rotate(45)"/><use href="#td" transform="translate(880 75) rotate(225)"/><use href="#td" transform="translate(860 94) rotate(210)"/><use href="#td" transform="translate(875 89) rotate(225)"/><use href="#td" transform="translate(876.5 106) rotate(225)"/><use href="#td" transform="translate(905 90) rotate(135)"/><use href="#td" transform="translate(921.5 94) rotate(30)"/><use href="#td" transform="translate(906.5 104) rotate(60)"/><use href="#td" transform="translate(924 112.5) rotate(45)"/><use href="#td" transform="translate(958 115) rotate(345)"/><use href="#td" transform="translate(981.5 99) rotate(150)"/><use href="#td" transform="translate(995 89) rotate(345)"/><use href="#td" transform="translate(1008 97.5) rotate(120)"/><use href="#td" transform="translate(1030 94) rotate(225)"/><use href="#td" transform="translate(1018 116) rotate(330)"/><use href="#td" transform="translate(285 81) rotate(75)"/><use href="#td" transform="translate(312.5 70) rotate(240)"/><use href="#td" transform="translate(326 101) rotate(0)"/><use href="#td" transform="translate(341 94) rotate(90)"/><use href="#td" transform="translate(272.5 107.5) rotate(240)"/><use href="#td" transform="translate(285 130) rotate(165)"/><use href="#td" transform="translate(256 136) rotate(60)"/><use href="#td" transform="translate(270 144) rotate(330)"/><use href="#td" transform="translate(234 156) rotate(255)"/><use href="#td" transform="translate(256 175) rotate(0)"/><use href="#td" transform="translate(249 186) rotate(240)"/><use href="#td" transform="translate(215 221) rotate(135)"/><use href="#td" transform="translate(214 242.5) rotate(300)"/><use href="#td" transform="translate(170 266) rotate(30)"/><use href="#td" transform="translate(192.5 284) rotate(330)"/><use href="#td" transform="translate(159 290) rotate(120)"/><use href="#td" transform="translate(172.5 290) rotate(240)"/><use href="#td" transform="translate(131 315) rotate(165)"/><use href="#td" transform="translate(169 319) rotate(75)"/><use href="#td" transform="translate(157.5 327.5) rotate(165)"/><use href="#td" transform="translate(85 340) rotate(105)"/><use href="#td" transform="translate(121 344) rotate(255)"/><use href="#td" transform="translate(152.5 351) rotate(255)"/><use href="#td" transform="translate(100 355) rotate(240)"/><use href="#td" transform="translate(56 360) rotate(150)"/><use href="#td" transform="translate(74 367.5) rotate(300)"/><use href="#td" transform="translate(84 377.5) rotate(105)"/><use href="#td" transform="translate(139 367.5) rotate(285)"/><use href="#td" transform="translate(45 387.5) rotate(90)"/><use href="#td" transform="translate(59 394) rotate(105)"/><use href="#td" transform="translate(101 391) rotate(180)"/><use href="#td" transform="translate(30 400) rotate(345)"/><use href="#td" transform="translate(47.5 406) rotate(105)"/><use href="#td" transform="translate(62.5 406) rotate(90)"/><use href="#td" transform="translate(91 407.5) rotate(240)"/><use href="#td" transform="translate(79 416) rotate(225)"/><use href="#td" transform="translate(11 427.5) rotate(165)"/><use href="#td" transform="translate(64 430) rotate(345)"/><use href="#td" transform="translate(52.5 446) rotate(0)"/><use href="#td" transform="translate(64 456) rotate(0)"/><use href="#td" transform="translate(36 472.5) rotate(120)"/><use href="#td" transform="translate(66 474) rotate(225)"/><use href="#td" transform="translate(69 504) rotate(120)"/><use href="#td" transform="translate(80 514) rotate(90)"/><use href="#td" transform="translate(72.5 531) rotate(330)"/><use href="#td" transform="translate(101 537.5) rotate(285)"/><use href="#td" transform="translate(47.5 559) rotate(165)"/><use href="#td" transform="translate(104 564) rotate(210)"/><use href="#td" transform="translate(71 576) rotate(345)"/><use href="#td" transform="translate(126 582.5) rotate(165)"/><use href="#td" transform="translate(112.5 594) rotate(165)"/><use href="#td" transform="translate(76 599) rotate(30)"/><use href="#td" transform="translate(37.5 614) rotate(105)"/><use href="#td" transform="translate(100 616) rotate(45)"/><use href="#td" transform="translate(61 633) rotate(105)"/><use href="#td" transform="translate(82.5 640) rotate(225)"/><use href="#td" transform="translate(127.5 641.5) rotate(90)"/><use href="#td" transform="translate(100 650) rotate(150)"/><use href="#td" transform="translate(145 654) rotate(90)"/><use href="#td" transform="translate(109 664) rotate(225)"/><use href="#td" transform="translate(76 669) rotate(285)"/><use href="#td" transform="translate(121 670) rotate(285)"/><use href="#td" transform="translate(76 681.5) rotate(0)"/><use href="#td" transform="translate(135 684) rotate(225)"/><use href="#td" transform="translate(171 691.5) rotate(300)"/><use href="#td" transform="translate(114 713) rotate(165)"/><use href="#td" transform="translate(159 718) rotate(300)"/><use href="#td" transform="translate(141 725) rotate(30)"/><use href="#td" transform="translate(80 731.5) rotate(315)"/><use href="#td" transform="translate(157.5 734) rotate(45)"/><use href="#td" transform="translate(106 745) rotate(180)"/><use href="#td" transform="translate(137.5 751.5) rotate(330)"/><use href="#td" transform="translate(160 756.5) rotate(90)"/><use href="#td" transform="translate(184 764) rotate(225)"/><use href="#td" transform="translate(212.5 759) rotate(75)"/><use href="#td" transform="translate(167.5 769) rotate(195)"/><use href="#td" transform="translate(242.5 774) rotate(300)"/><use href="#td" transform="translate(231 736.5) rotate(150)"/><use href="#td" transform="translate(257.5 723) rotate(30)"/><use href="#td" transform="translate(274 719) rotate(345)"/><use href="#td" transform="translate(305 710) rotate(180)"/><use href="#td" transform="translate(331 723) rotate(210)"/><use href="#td" transform="translate(300 731.5) rotate(180)"/><use href="#td" transform="translate(334 740) rotate(345)"/><use href="#td" transform="translate(255 758) rotate(30)"/><use href="#td" transform="translate(291 755) rotate(345)"/><use href="#td" transform="translate(281 770) rotate(75)"/><use href="#td" transform="translate(319 769) rotate(75)"/><use href="#td" transform="translate(347.5 770) rotate(60)"/><use href="#td" transform="translate(237.5 793) rotate(0)"/><use href="#td" transform="translate(256 789) rotate(60)"/><use href="#td" transform="translate(251 803) rotate(270)"/><use href="#td" transform="translate(284 799) rotate(210)"/><use href="#td" transform="translate(277.5 815) rotate(300)"/><use href="#td" transform="translate(302.5 788) rotate(60)"/><use href="#td" transform="translate(329 800) rotate(285)"/><use href="#td" transform="translate(341 789) rotate(285)"/><use href="#td" transform="translate(361 751.5) rotate(225)"/><use href="#td" transform="translate(354.5 759) rotate(315)"/><use href="#td" transform="translate(381 770) rotate(165)"/><use href="#td" transform="translate(373 780) rotate(60)"/><use href="#td" transform="translate(398 793) rotate(255)"/><use href="#td" transform="translate(356 815) rotate(255)"/><use href="#td" transform="translate(412 808) rotate(60)"/><use href="#td" transform="translate(442 809) rotate(0)"/><use href="#td" transform="translate(437 771.5) rotate(0)"/><use href="#td" transform="translate(463 784) rotate(345)"/><use href="#td" transform="translate(459.5 750) rotate(300)"/><use href="#td" transform="translate(482 769) rotate(45)"/><use href="#td" transform="translate(493 739) rotate(240)"/><use href="#td" transform="translate(507 776.5) rotate(345)"/><use href="#td" transform="translate(519.5 751.5) rotate(60)"/><use href="#td" transform="translate(537 735) rotate(195)"/><use href="#td" transform="translate(549.5 729) rotate(90)"/><use href="#td" transform="translate(561 721.5) rotate(90)"/><use href="#td" transform="translate(564.5 746.5) rotate(0)"/><use href="#td" transform="translate(588 731.5) rotate(120)"/><use href="#td" transform="translate(597 718) rotate(90)"/><use href="#td" transform="translate(623 730) rotate(135)"/><use href="#td" transform="translate(636 718) rotate(240)"/><use href="#td" transform="translate(636 745) rotate(105)"/><use href="#td" transform="translate(658 700) rotate(270)"/><use href="#td" transform="translate(664.5 686.5) rotate(150)"/><use href="#td" transform="translate(666 743) rotate(120)"/><use href="#td" transform="translate(684.5 744) rotate(255)"/><use href="#td" transform="translate(692 699) rotate(195)"/><use href="#td" transform="translate(697 716.5) rotate(60)"/><use href="#td" transform="translate(811.5 648) rotate(15)"/><use href="#td" transform="translate(838 660) rotate(345)"/><use href="#td" transform="translate(749 679) rotate(165)"/><use href="#td" transform="translate(789 681.5) rotate(210)"/><use href="#td" transform="translate(846.5 676.5) rotate(315)"/><use href="#td" transform="translate(775 691.5) rotate(270)"/><use href="#td" transform="translate(740 700) rotate(240)"/><use href="#td" transform="translate(711.5 705) rotate(195)"/><use href="#td" transform="translate(775 710) rotate(240)"/><use href="#td" transform="translate(808 705) rotate(60)"/><use href="#td" transform="translate(835 704) rotate(255)"/><use href="#td" transform="translate(865 690) rotate(60)"/><use href="#td" transform="translate(880 699) rotate(240)"/><use href="#td" transform="translate(865 706.5) rotate(240)"/><use href="#td" transform="translate(895 649) rotate(0)"/><use href="#td" transform="translate(925 654) rotate(210)"/><use href="#td" transform="translate(879 663) rotate(75)"/><use href="#td" transform="translate(904 670) rotate(285)"/><use href="#td" transform="translate(920 698) rotate(0)"/><use href="#td" transform="translate(906.5 711.5) rotate(60)"/><use href="#td" transform="translate(714 719) rotate(75)"/><use href="#td" transform="translate(743 718) rotate(60)"/><use href="#td" transform="translate(801.5 723) rotate(225)"/><use href="#td" transform="translate(816.5 729) rotate(285)"/><use href="#td" transform="translate(770 730) rotate(345)"/><use href="#td" transform="translate(740 731.5) rotate(45)"/><use href="#td" transform="translate(869 735) rotate(255)"/><use href="#td" transform="translate(841.5 744) rotate(15)"/><use href="#td" transform="translate(793 751.5) rotate(150)"/><use href="#td" transform="translate(819 764) rotate(315)"/><use href="#td" transform="translate(921.5 615) rotate(240)"/><use href="#pp" transform="translate(383 141) rotate(240)"/><use href="#pp" transform="translate(414.5 136) rotate(255)"/><use href="#pp" transform="translate(568 120) rotate(225)"/><use href="#pp" transform="translate(563 137.5) rotate(45)"/><use href="#pp" transform="translate(562 155) rotate(255)"/><use href="#pp" transform="translate(613 106) rotate(15)"/><use href="#pp" transform="translate(647 107.5) rotate(105)"/><use href="#pp" transform="translate(603 129) rotate(90)"/><use href="#pp" transform="translate(666 121) rotate(120)"/><use href="#pp" transform="translate(667 150) rotate(15)"/><use href="#pp" transform="translate(709 96) rotate(45)"/><use href="#pp" transform="translate(769 96) rotate(240)"/><use href="#pp" transform="translate(854 135) rotate(210)"/><use href="#pp" transform="translate(919 154) rotate(255)"/><use href="#pd" transform="translate(397 130) rotate(0)"/><use href="#pd" transform="translate(369.5 139) rotate(30)"/><use href="#pd" transform="translate(451 141) rotate(210)"/><use href="#pd" transform="translate(481 134) rotate(150)"/><use href="#pd" transform="translate(504.5 129) rotate(285)"/><use href="#pd" transform="translate(542 120) rotate(240)"/><use href="#pd" transform="translate(554.5 126) rotate(285)"/><use href="#pd" transform="translate(583 119) rotate(240)"/><use href="#pd" transform="translate(576 152.5) rotate(90)"/><use href="#pd" transform="translate(601 154) rotate(330)"/><use href="#pd" transform="translate(614.5 156) rotate(120)"/><use href="#pd" transform="translate(631 107.5) rotate(210)"/><use href="#pd" transform="translate(669.5 95) rotate(240)"/><use href="#pd" transform="translate(689.5 96) rotate(255)"/><use href="#pd" transform="translate(652 126) rotate(225)"/><use href="#pd" transform="translate(666 132.5) rotate(240)"/><use href="#pd" transform="translate(653 141) rotate(105)"/><use href="#pd" transform="translate(723 86) rotate(330)"/><use href="#pd" transform="translate(751.5 89) rotate(240)"/><use href="#pd" transform="translate(784 101) rotate(120)"/><use href="#pd" transform="translate(810 112.5) rotate(255)"/><use href="#pd" transform="translate(861.5 155) rotate(90)"/><use href="#pd" transform="translate(910 140) rotate(210)"/>
<g fill="none" stroke="#d8fdf8" stroke-width="1"><circle cx="298" cy="180" r="6.4"/><circle cx="302" cy="222.5" r="6.4"/><circle cx="351" cy="187.5" r="6.4"/><circle cx="401" cy="188" r="6.4"/><circle cx="360" cy="227" r="6.4"/><circle cx="446.6" cy="180.8" r="6.4"/><circle cx="440" cy="233" r="6.4"/><circle cx="524.5" cy="196" r="6.4"/><circle cx="552" cy="185" r="6.4"/><circle cx="566" cy="240" r="6.4"/><circle cx="655" cy="186.3" r="6.4"/><circle cx="677.5" cy="186.3" r="6.4"/><circle cx="652" cy="222" r="6.4"/><circle cx="677" cy="221.5" r="6.4"/><circle cx="800" cy="186" r="6.4"/><circle cx="821.5" cy="186" r="6.4"/><circle cx="798.5" cy="221" r="6.4"/><circle cx="821.5" cy="221" r="6.4"/><circle cx="920" cy="182.5" r="6.4"/><circle cx="919" cy="213" r="6.4"/><circle cx="919" cy="242.5" r="6.4"/><circle cx="798.5" cy="257.5" r="6.4"/><circle cx="821.5" cy="257.5" r="6.4"/><circle cx="797" cy="292" r="6.4"/><circle cx="821.5" cy="292" r="6.4"/><circle cx="919" cy="270" r="6.4"/><circle cx="919" cy="301" r="6.4"/><circle cx="920" cy="329" r="6.4"/><circle cx="920" cy="359" r="6.4"/><circle cx="919" cy="387.5" r="6.4"/><circle cx="920" cy="417.5" r="6.4"/><circle cx="920" cy="447.5" r="6.4"/><circle cx="772" cy="358" r="6.4"/><circle cx="796" cy="358" r="6.4"/><circle cx="835" cy="358" r="6.4"/><circle cx="713" cy="361" r="6.4"/><circle cx="833" cy="401" r="6.4"/><circle cx="779.6" cy="416" r="6.4"/><circle cx="824" cy="439" r="6.4"/><circle cx="356" cy="262.5" r="6.4"/><circle cx="359.5" cy="293" r="6.4"/><circle cx="459.5" cy="286" r="6.4"/><circle cx="487" cy="316" r="6.4"/><circle cx="563" cy="301" r="6.4"/><circle cx="653" cy="255.5" r="6.4"/><circle cx="677" cy="255.5" r="6.4"/><circle cx="656" cy="293" r="6.4"/><circle cx="678" cy="293" r="6.4"/><circle cx="431.5" cy="362" r="6.4"/><circle cx="399" cy="377" r="6.4"/><circle cx="361" cy="395" r="6.4"/><circle cx="416.5" cy="398" r="6.4"/><circle cx="471.5" cy="393" r="6.4"/><circle cx="504.5" cy="394.5" r="6.4"/><circle cx="551" cy="386" r="6.4"/><circle cx="444" cy="418" r="6.4"/><circle cx="386" cy="439" r="6.4"/><circle cx="559.5" cy="434" r="6.4"/><circle cx="633" cy="361" r="6.4"/><circle cx="681" cy="359" r="6.4"/><circle cx="643" cy="399" r="6.4"/><circle cx="653" cy="435" r="6.4"/><circle cx="698.7" cy="420" r="6.4"/><circle cx="268" cy="271" r="6.4"/><circle cx="228" cy="316" r="6.4"/><circle cx="220" cy="353" r="6.4"/><circle cx="195" cy="387" r="6.4"/><circle cx="321" cy="320" r="6.4"/><circle cx="291" cy="340" r="6.4"/><circle cx="290" cy="420.5" r="6.4"/><circle cx="234" cy="435.5" r="6.4"/><circle cx="127.5" cy="456" r="6.4"/><circle cx="346.5" cy="447.5" r="6.4"/><circle cx="199" cy="496" r="6.4"/><circle cx="246" cy="484" r="6.4"/><circle cx="278" cy="472.5" r="6.4"/><circle cx="313" cy="461" r="6.4"/><circle cx="291" cy="545" r="6.4"/><circle cx="324" cy="545" r="6.4"/><circle cx="195" cy="582.5" r="6.4"/><circle cx="244.5" cy="577.5" r="6.4"/><circle cx="253" cy="607" r="6.4"/><circle cx="224" cy="616" r="6.4"/><circle cx="322.5" cy="597.5" r="6.4"/><circle cx="323" cy="636" r="6.4"/><circle cx="164" cy="640" r="6.4"/><circle cx="448" cy="464" r="6.4"/><circle cx="476" cy="481" r="6.4"/><circle cx="501" cy="502" r="6.4"/><circle cx="559.5" cy="470" r="6.4"/><circle cx="552" cy="499" r="6.4"/><circle cx="533" cy="528" r="6.4"/><circle cx="654" cy="470" r="6.4"/><circle cx="648" cy="502" r="6.4"/><circle cx="636.5" cy="536" r="6.4"/><circle cx="601" cy="561" r="6.4"/><circle cx="669.5" cy="573" r="6.4"/><circle cx="697" cy="474" r="6.4"/><circle cx="697" cy="515.5" r="6.4"/><circle cx="358" cy="538" r="6.4"/><circle cx="392" cy="544" r="6.4"/><circle cx="419.5" cy="556" r="6.4"/><circle cx="448" cy="567.5" r="6.4"/><circle cx="474" cy="582" r="6.4"/><circle cx="505" cy="603" r="6.4"/><circle cx="453" cy="616" r="6.4"/><circle cx="431.5" cy="616" r="6.4"/><circle cx="390" cy="621" r="6.4"/><circle cx="370" cy="632.5" r="6.4"/><circle cx="554.5" cy="629.5" r="6.4"/><circle cx="621" cy="631" r="6.4"/><circle cx="648" cy="651" r="6.4"/><circle cx="683" cy="651" r="6.4"/><circle cx="768.5" cy="474" r="6.4"/><circle cx="822" cy="474" r="6.4"/><circle cx="920" cy="476" r="6.4"/><circle cx="825" cy="507.5" r="6.4"/><circle cx="920" cy="505.5" r="6.4"/><circle cx="764" cy="515" r="6.4"/><circle cx="813" cy="532" r="6.4"/><circle cx="918" cy="534" r="6.4"/><circle cx="800" cy="546" r="6.4"/><circle cx="756.5" cy="557.5" r="6.4"/><circle cx="709" cy="558" r="6.4"/><circle cx="899" cy="574" r="6.4"/><circle cx="862" cy="610" r="6.4"/><circle cx="828" cy="615" r="6.4"/><circle cx="794.5" cy="629.5" r="6.4"/><circle cx="759" cy="639" r="6.4"/><circle cx="718" cy="649" r="6.4"/><circle cx="196" cy="706" r="6.4"/><circle cx="233" cy="695" r="6.4"/><circle cx="268" cy="684" r="6.4"/><circle cx="451" cy="678" r="6.4"/><circle cx="506" cy="680" r="6.4"/><circle cx="539" cy="671" r="6.4"/><circle cx="564" cy="683" r="6.4"/><circle cx="603" cy="675" r="6.4"/><circle cx="360" cy="707" r="6.4"/><circle cx="464.5" cy="708" r="6.4"/><circle cx="413" cy="752" r="6.4"/></g><g fill="#dcfffa" text-anchor="middle" font-size="8.4" stroke="#dcfffa" stroke-width="0.35"><text x="298" y="182.9">1</text><text x="302" y="225.4">2</text><text x="351" y="190.4">18</text><text x="401" y="190.9">19</text><text x="360" y="229.9">17</text><text x="446.6" y="183.7">27</text><text x="440" y="235.9">28</text><text x="524.5" y="198.9">34</text><text x="552" y="187.9">33</text><text x="566" y="242.9">32</text><text x="655" y="189.2">71</text><text x="677.5" y="189.2">78</text><text x="652" y="224.9">72</text><text x="677" y="224.4">77</text><text x="800" y="188.9">79</text><text x="821.5" y="188.9">86</text><text x="798.5" y="223.9">80</text><text x="821.5" y="223.9">85</text><text x="920" y="185" font-size="7">113</text><text x="919" y="215.5" font-size="7">114</text><text x="919" y="245" font-size="7">115</text><text x="798.5" y="260.4">81</text><text x="821.5" y="260.4">84</text><text x="797" y="294.9">82</text><text x="821.5" y="294.9">83</text><text x="919" y="272.5" font-size="7">116</text><text x="919" y="303.5" font-size="7">117</text><text x="920" y="331.5" font-size="7">118</text><text x="920" y="361.5" font-size="7">119</text><text x="919" y="390" font-size="7">120</text><text x="920" y="420" font-size="7">121</text><text x="920" y="450" font-size="7">122</text><text x="772" y="360.5" font-size="7">112</text><text x="796" y="360.5" font-size="7">111</text><text x="835" y="360.5" font-size="7">110</text><text x="713" y="363.9">84</text><text x="833" y="403.5" font-size="7">109</text><text x="779.6" y="418.9">99</text><text x="824" y="441.5" font-size="7">108</text><text x="356" y="265.4">16</text><text x="359.5" y="295.9">15</text><text x="459.5" y="288.9">29</text><text x="487" y="318.9">30</text><text x="563" y="303.9">31</text><text x="653" y="258.4">73</text><text x="677" y="258.4">76</text><text x="656" y="295.9">74</text><text x="678" y="295.9">75</text><text x="431.5" y="364.9">12</text><text x="399" y="379.9">11</text><text x="361" y="397.9">10</text><text x="416.5" y="400.9">20</text><text x="471.5" y="395.9">46</text><text x="504.5" y="397.4">45</text><text x="551" y="388.9">44</text><text x="444" y="420.9">36</text><text x="386" y="441.9">21</text><text x="559.5" y="436.9">43</text><text x="633" y="363.9">87</text><text x="681" y="361.9">83</text><text x="643" y="401.9">88</text><text x="653" y="437.9">89</text><text x="698.7" y="422.9">98</text><text x="268" y="273.9">3</text><text x="228" y="318.9">4</text><text x="220" y="355.9">5</text><text x="195" y="389.9">6</text><text x="321" y="322.9">14</text><text x="291" y="342.9">13</text><text x="290" y="423.4">9</text><text x="234" y="438.4">8</text><text x="127.5" y="458.9">7</text><text x="346.5" y="450.4">22</text><text x="199" y="498.9">26</text><text x="246" y="486.9">25</text><text x="278" y="475.4">24</text><text x="313" y="463.9">23</text><text x="291" y="547.9">61</text><text x="324" y="547.9">60</text><text x="195" y="585.4">69</text><text x="244.5" y="580.4">70</text><text x="253" y="609.9">68</text><text x="224" y="618.9">67</text><text x="322.5" y="600.4">48</text><text x="323" y="638.9">49</text><text x="164" y="642.9">63</text><text x="448" y="466.9">37</text><text x="476" y="483.9">38</text><text x="501" y="504.9">39</text><text x="559.5" y="472.9">42</text><text x="552" y="501.9">41</text><text x="533" y="530.9">40</text><text x="654" y="472.9">90</text><text x="648" y="504.9">91</text><text x="636.5" y="538.9">92</text><text x="601" y="563.9">93</text><text x="669.5" y="575.9">94</text><text x="697" y="476.9">97</text><text x="697" y="518.4">96</text><text x="358" y="540.9">59</text><text x="392" y="546.9">58</text><text x="419.5" y="558.9">57</text><text x="448" y="570.4">56</text><text x="474" y="584.9">55</text><text x="505" y="605.9">54</text><text x="453" y="618.9">53</text><text x="431.5" y="618.9">52</text><text x="390" y="623.9">51</text><text x="370" y="635.4">50</text><text x="554.5" y="632" font-size="7">137</text><text x="621" y="633.5" font-size="7">134</text><text x="648" y="653.5" font-size="7">133</text><text x="683" y="653.5" font-size="7">132</text><text x="768.5" y="476.5" font-size="7">100</text><text x="822" y="476.5" font-size="7">107</text><text x="920" y="478.5" font-size="7">123</text><text x="825" y="510" font-size="7">106</text><text x="920" y="508" font-size="7">124</text><text x="764" y="517.5" font-size="7">102</text><text x="813" y="534.5" font-size="7">105</text><text x="918" y="536.5" font-size="7">125</text><text x="800" y="548.5" font-size="7">104</text><text x="756.5" y="560" font-size="7">103</text><text x="709" y="560.9">95</text><text x="899" y="576.5" font-size="7">126</text><text x="862" y="612.5" font-size="7">127</text><text x="828" y="617.5" font-size="7">128</text><text x="794.5" y="632" font-size="7">129</text><text x="759" y="641.5" font-size="7">130</text><text x="718" y="651.5" font-size="7">131</text><text x="196" y="708.9">64</text><text x="233" y="697.9">65</text><text x="268" y="686.9">66</text><text x="451" y="680.5" font-size="7">140</text><text x="506" y="682.5" font-size="7">139</text><text x="539" y="673.5" font-size="7">138</text><text x="564" y="685.5" font-size="7">136</text><text x="603" y="677.5" font-size="7">135</text><text x="360" y="709.5" font-size="7">143</text><text x="464.5" y="710.5" font-size="7">141</text><text x="413" y="754.5" font-size="7">142</text></g><g fill="#dcfffa" text-anchor="middle" font-size="7.8" font-weight="bold" stroke="#dcfffa" stroke-width="0.15"><text x="307" y="198.8">3963 м²</text><text x="297.5" y="239.8">4098 м²</text><text x="353" y="204.3">1970 м²</text><text x="391" y="205.8">1650 м²</text><text x="363" y="243.8">2239 м²</text><text x="452.7" y="198.3">3370 м²</text><text x="462" y="246.8">3219 м²</text><text x="521" y="211.8">2179 м²</text><text x="561" y="199.8">3071 м²</text><text x="568" y="256.3">3876 м²</text><text x="648.3" y="204.8">2148 м²</text><text x="686.5" y="204.8">2179 м²</text><text x="648" y="237.3">2090 м²</text><text x="684.5" y="237.3">2124 м²</text><text x="793" y="203.8">2161 м²</text><text x="829" y="203.8">2050 м²</text><text x="794" y="238.8">2111 м²</text><text x="831" y="239.8">1995 м²</text><text x="911.5" y="198.8">1429 м²</text><text x="913" y="227.3">1407 м²</text><text x="913" y="256.8">1543 м²</text><text x="796" y="275.3">2231 м²</text><text x="830" y="275.8">2108 м²</text><text x="795" y="310.8">2201 м²</text><text x="830" y="310.8">2079 м²</text><text x="911" y="286.8">1501 м²</text><text x="911" y="314.8">1501 м²</text><text x="913" y="344.8">1501 м²</text><text x="913" y="373.8">1501 м²</text><text x="913" y="404.8">1501 м²</text><text x="913" y="432.3">1501 м²</text><text x="913" y="462.8">1501 м²</text><text x="766.5" y="374.8">2103 м²</text><text x="800" y="374.8">2085 м²</text><text x="839" y="374.8">2383 м²</text><text x="714" y="375.3">2066 м²</text><text x="834" y="416.8">2031 м²</text><text x="779" y="432.8">3235 м²</text><text x="828" y="455.8">2000 м²</text><text x="359.5" y="278.8">2428 м²</text><text x="357" y="310.8">2561 м²</text><text x="462" y="305.8">3427 м²</text><text x="494" y="336.8">2580 м²</text><text x="562" y="317.8">4114 м²</text><text x="644.5" y="275.8">2209 м²</text><text x="686" y="275.8">2244 м²</text><text x="644.5" y="311.8">2179 м²</text><text x="686" y="311.8">2214 м²</text><text x="436" y="380.8">3309 м²</text><text x="392" y="393.8">2044 м²</text><text x="358" y="415.3">3000 м²</text><text x="417" y="411.3">1713 м²</text><text x="473" y="408.8">2420 м²</text><text x="509.5" y="409.8">2231 м²</text><text x="554.5" y="402.8">3375 м²</text><text x="455" y="431.8">1522 м²</text><text x="388" y="453.3">2591 м²</text><text x="567.5" y="452.8">1911 м²</text><text x="633" y="377.8">2760 м²</text><text x="675" y="375.3">2057 м²</text><text x="641.5" y="416.8">2006 м²</text><text x="647" y="451.8">2018 м²</text><text x="696" y="435.3">3217 м²</text><text x="268" y="286.8">4500 м²</text><text x="231" y="333.8">2413 м²</text><text x="215" y="370.8">2932 м²</text><text x="191" y="402.8">2737 м²</text><text x="326" y="333.8">2634 м²</text><text x="293" y="354.8">2740 м²</text><text x="297.5" y="436.8">2868 м²</text><text x="237" y="453.8">5465 м²</text><text x="125" y="475.3">11200 м²</text><text x="350" y="465.3">2074 м²</text><text x="197.5" y="512.8">2687 м²</text><text x="242" y="500.8">2010 м²</text><text x="279" y="488.8">1987 м²</text><text x="314.5" y="476.8">2014 м²</text><text x="293" y="560.3">3391 м²</text><text x="330.5" y="558.8">1823 м²</text><text x="209" y="598.8">1933 м²</text><text x="240" y="594.8">1714 м²</text><text x="250" y="620.8">1556 м²</text><text x="221" y="630.8">1717 м²</text><text x="321" y="615.3">2250 м²</text><text x="324" y="652.8">3226 м²</text><text x="171" y="657.8">2869 м²</text><text x="445" y="478.8">2678 м²</text><text x="472" y="497.8">2133 м²</text><text x="500" y="516.8">1821 м²</text><text x="561.5" y="483.3">1765 м²</text><text x="556" y="515.3">1991 м²</text><text x="537" y="543.8">2581 м²</text><text x="647" y="483.3">2017 м²</text><text x="641" y="516.8">2009 м²</text><text x="629" y="550.8">1524 м²</text><text x="600" y="575.8">2452 м²</text><text x="668" y="587.3">1891 м²</text><text x="701" y="488.8">2112 м²</text><text x="701" y="529.8">2403 м²</text><text x="364.5" y="556.8">2225 м²</text><text x="395" y="560.3">2027 м²</text><text x="423" y="571.8">1647 м²</text><text x="452" y="581.8">1356 м²</text><text x="479" y="595.8">1435 м²</text><text x="506" y="618.8">3057 м²</text><text x="469" y="628.8">1369 м²</text><text x="434" y="630.3">1777 м²</text><text x="398" y="636.8">2003 м²</text><text x="368" y="647.3">1660 м²</text><text x="560" y="647.8">2050 м²</text><text x="612" y="645.8">1316 м²</text><text x="647" y="667.8">2373 м²</text><text x="683" y="667.8">2298 м²</text><text x="776" y="488.8">2136 м²</text><text x="830" y="488.8">2003 м²</text><text x="914" y="490.8">1501 м²</text><text x="838" y="521.8">1722 м²</text><text x="914" y="520.3">1501 м²</text><text x="763" y="528.8">1796 м²</text><text x="831" y="540.3">1784 м²</text><text x="914" y="552.3">1519 м²</text><text x="805" y="557.8">1372 м²</text><text x="759" y="571.8">1637 м²</text><text x="706.5" y="572.3">2547 м²</text><text x="898" y="590.8">3029 м²</text><text x="863.5" y="628.8">2774 м²</text><text x="828" y="632.8">2102 м²</text><text x="785" y="644.8">2208 м²</text><text x="753" y="657.3">1998 м²</text><text x="720" y="666.8">2226 м²</text><text x="206" y="722.3">2269 м²</text><text x="244" y="711.3">1778 м²</text><text x="277.5" y="697.8">1806 м²</text><text x="451" y="694.3">2452 м²</text><text x="503" y="697.8">2448 м²</text><text x="537" y="694.8">2494 м²</text><text x="573" y="699.8">2174 м²</text><text x="608" y="690.8">1929 м²</text><text x="363" y="723.8">2579 м²</text><text x="458" y="723.8">2655 м²</text><text x="411" y="768.8">2705 м²</text></g><g text-anchor="middle" font-size="8" fill="#5fb7aa"><circle cx="314.5" cy="282" r="6.2" fill="#f2fffd"/><text x="314.5" y="284.9">14</text><circle cx="504.5" cy="240" r="6.2" fill="#f2fffd"/><text x="504.5" y="242.9">14</text><circle cx="508" cy="451" r="6.2" fill="#f2fffd"/><text x="508" y="453.9">14</text><circle cx="357" cy="595" r="6.2" fill="#f2fffd"/><text x="357" y="597.9">14</text><circle cx="740" cy="386" r="6.2" fill="#f2fffd"/><text x="740" y="388.9">14</text><circle cx="259.5" cy="324" r="6.2" fill="#f2fffd"/><text x="259.5" y="326.9">27</text><circle cx="478" cy="147.3" r="6.2" fill="#f2fffd"/><text x="478" y="150.2">7</text><circle cx="633.4" cy="140.6" r="6.2" fill="#f2fffd"/><text x="633.4" y="143.5">17</text><circle cx="650.4" cy="159.4" r="6.2" fill="#f2fffd"/><text x="650.4" y="162.3">29</text><circle cx="686.8" cy="112.3" r="6.2" fill="#f2fffd"/><text x="686.8" y="115.2">13</text><circle cx="739" cy="77.5" r="6.2" fill="#f2fffd"/><text x="739" y="80.4">18</text><circle cx="756" cy="103.5" r="6.2" fill="#f2fffd"/><text x="756" y="106.4">16</text><circle cx="787.6" cy="119.2" r="6.2" fill="#f2fffd"/><text x="787.6" y="122.1">20</text><circle cx="825.8" cy="140.4" r="6.2" fill="#f2fffd"/><text x="825.8" y="143.3">21</text><circle cx="709" cy="146.4" r="6.2" fill="#f2fffd"/><text x="709" y="149.3">22</text><circle cx="739" cy="177" r="6.2" fill="#f2fffd"/><text x="739" y="179.9">19</text><circle cx="739" cy="344" r="6.2" fill="#f2fffd"/><text x="739" y="346.9">28</text><circle cx="129" cy="534" r="6.2" fill="#f2fffd"/><text x="129" y="536.9">8</text><circle cx="180" cy="611" r="6.2" fill="#f2fffd"/><text x="180" y="613.9">9</text><circle cx="182" cy="133" r="6.3" fill="#f4fbfa" stroke="#6cc3b6" stroke-width="0.8"/><text x="182" y="135.9">7</text><circle cx="123" cy="178" r="6.3" fill="#f4fbfa" stroke="#6cc3b6" stroke-width="0.8"/><text x="123" y="180.9">5</text><circle cx="177" cy="181" r="6.3" fill="#f4fbfa" stroke="#6cc3b6" stroke-width="0.8"/><text x="177" y="183.9">6</text><circle cx="130" cy="234.5" r="6.3" fill="#f4fbfa" stroke="#6cc3b6" stroke-width="0.8"/><text x="130" y="237.4">4</text><circle cx="74.5" cy="245.5" r="6.3" fill="#f4fbfa" stroke="#6cc3b6" stroke-width="0.8"/><text x="74.5" y="248.4">3</text><circle cx="269" cy="152" r="6.3" fill="#f4fbfa" stroke="#6cc3b6" stroke-width="0.8"/><text x="269" y="154.9">26</text><circle cx="63" cy="316" r="6.3" fill="#f4fbfa" stroke="#6cc3b6" stroke-width="0.8"/><text x="63" y="318.9">1</text><circle cx="100" cy="292" r="6.3" fill="#f4fbfa" stroke="#6cc3b6" stroke-width="0.8"/><text x="100" y="294.9">2</text><circle cx="88" cy="572.5" r="6.3" fill="#f4fbfa" stroke="#6cc3b6" stroke-width="0.8"/><text x="88" y="575.4">11</text><circle cx="312.5" cy="721.5" r="6.3" fill="#f4fbfa" stroke="#6cc3b6" stroke-width="0.8"/><text x="312.5" y="724.4">11</text><circle cx="803" cy="697" r="6.3" fill="#f4fbfa" stroke="#6cc3b6" stroke-width="0.8"/><text x="803" y="699.9">12</text></g>
<g fill="#ffffff" opacity="0.13" font-weight="bold"><text x="247" y="220.5" font-size="27" textLength="50" lengthAdjust="spacingAndGlyphs">BSN</text><rect x="299" y="208" width="21" height="12" rx="1"/><text x="247" y="427.5" font-size="27" textLength="50" lengthAdjust="spacingAndGlyphs">BSN</text><rect x="299" y="415" width="21" height="12" rx="1"/><text x="247" y="637.5" font-size="27" textLength="50" lengthAdjust="spacingAndGlyphs">BSN</text><rect x="299" y="625" width="21" height="12" rx="1"/><text x="527.5" y="220.5" font-size="27" textLength="50" lengthAdjust="spacingAndGlyphs">BSN</text><rect x="579.5" y="208" width="21" height="12" rx="1"/><text x="527.5" y="427.5" font-size="27" textLength="50" lengthAdjust="spacingAndGlyphs">BSN</text><rect x="579.5" y="415" width="21" height="12" rx="1"/><text x="527.5" y="637.5" font-size="27" textLength="50" lengthAdjust="spacingAndGlyphs">BSN</text><rect x="579.5" y="625" width="21" height="12" rx="1"/><text x="808" y="220.5" font-size="27" textLength="50" lengthAdjust="spacingAndGlyphs">BSN</text><rect x="860" y="208" width="21" height="12" rx="1"/><text x="808" y="427.5" font-size="27" textLength="50" lengthAdjust="spacingAndGlyphs">BSN</text><rect x="860" y="415" width="21" height="12" rx="1"/><text x="808" y="637.5" font-size="27" textLength="50" lengthAdjust="spacingAndGlyphs">BSN</text><rect x="860" y="625" width="21" height="12" rx="1"/></g>
<g font-size="13" fill="#585a5c" stroke="#585a5c" stroke-width="0.26"><text x="1069" y="207.1" text-anchor="middle" fill="#62bdae" stroke="#62bdae" stroke-width="0.3" font-size="13.6">1</text><text x="1081.7" y="207.1" textLength="140.4" lengthAdjust="spacing">Ресторан с террасой</text><text x="1069" y="226.6" text-anchor="middle" fill="#62bdae" stroke="#62bdae" stroke-width="0.3" font-size="13.6">2</text><text x="1081.7" y="226.6" textLength="61.8" lengthAdjust="spacing">Винотека</text><text x="1069" y="246.9" text-anchor="middle" fill="#62bdae" stroke="#62bdae" stroke-width="0.3" font-size="13.6">3</text><text x="1081.7" y="246.9" textLength="177.8" lengthAdjust="spacing">Зарядка для электрокаров</text><text x="1069" y="266.6" text-anchor="middle" fill="#62bdae" stroke="#62bdae" stroke-width="0.3" font-size="13.6">4</text><text x="1081.7" y="266.6" textLength="185.3" lengthAdjust="spacing">Парк с озером для рыбалки</text><text x="1081.7" y="280.6" textLength="173.4" lengthAdjust="spacing">(форель, осетр, стерлядь)</text><text x="1069" y="298.6" text-anchor="middle" fill="#62bdae" stroke="#62bdae" stroke-width="0.3" font-size="13.6">5</text><text x="1081.7" y="298.6" textLength="214.3" lengthAdjust="spacing">Лаунж-зона с террасой и баром</text><text x="1069" y="318.9" text-anchor="middle" fill="#62bdae" stroke="#62bdae" stroke-width="0.3" font-size="13.6">6</text><text x="1081.7" y="318.9" textLength="179.4" lengthAdjust="spacing">Парковка для гольф-каров</text><text x="1069" y="338.6" text-anchor="middle" fill="#62bdae" stroke="#62bdae" stroke-width="0.3" font-size="13.6">7</text><text x="1081.7" y="338.6" textLength="261.9" lengthAdjust="spacing">Парк активного отдыха для всей семьи</text><text x="1069" y="358.9" text-anchor="middle" fill="#62bdae" stroke="#62bdae" stroke-width="0.3" font-size="13.6">8</text><text x="1081.7" y="358.9" textLength="68.8" lengthAdjust="spacing">Экоферма</text><text x="1069" y="378.6" text-anchor="middle" fill="#62bdae" stroke="#62bdae" stroke-width="0.3" font-size="13.6">9</text><text x="1081.7" y="378.6" textLength="259.5" lengthAdjust="spacing">Апарт-отель для персонала и тех. зона</text><text x="1081.7" y="392.6" textLength="150.5" lengthAdjust="spacing">(хранение, автомойка)</text><text x="1069" y="409.9" text-anchor="middle" fill="#62bdae" stroke="#62bdae" stroke-width="0.3" font-size="13.6">10</text><text x="1081.7" y="409.9" textLength="92.8" lengthAdjust="spacing">Пункт охраны</text><text x="1069" y="429.6" text-anchor="middle" fill="#62bdae" stroke="#62bdae" stroke-width="0.3" font-size="13.6">11</text><text x="1081.7" y="429.6" textLength="160.6" lengthAdjust="spacing">Экотропа к реке Сестра</text><text x="1069" y="449.6" text-anchor="middle" fill="#62bdae" stroke="#62bdae" stroke-width="0.3" font-size="13.6">12</text><text x="1081.7" y="449.6" textLength="129.2" lengthAdjust="spacing">Лес 1-ой категории</text><text x="1069" y="469.6" text-anchor="middle" fill="#62bdae" stroke="#62bdae" stroke-width="0.3" font-size="13.6">13</text><text x="1081.7" y="469.6" textLength="124.8" lengthAdjust="spacing">Гостевая парковка</text><text x="1069" y="489.6" text-anchor="middle" fill="#62bdae" stroke="#62bdae" stroke-width="0.3" font-size="13.6">14</text><text x="1081.7" y="489.6" textLength="235.1" lengthAdjust="spacing">Приватное озеро для прибрежных</text><text x="1081.7" y="503.6" textLength="58.3" lengthAdjust="spacing">участков</text><text x="1069" y="522.9" text-anchor="middle" fill="#62bdae" stroke="#62bdae" stroke-width="0.3" font-size="13.6">15</text><text x="1081.7" y="522.9" textLength="97.4" lengthAdjust="spacing">Отдел продаж</text><text x="1069" y="541.3" text-anchor="middle" fill="#62bdae" stroke="#62bdae" stroke-width="0.3" font-size="13.6">16</text><text x="1081.7" y="541.3" textLength="154.1" lengthAdjust="spacing">Консьерж-сервис 24/7</text><text x="1069" y="561.3" text-anchor="middle" fill="#62bdae" stroke="#62bdae" stroke-width="0.3" font-size="13.6">17</text><text x="1081.7" y="561.3" textLength="270" lengthAdjust="spacing">Фитнесс с бассейном и SPA с бассейном</text><text x="1069" y="580.6" text-anchor="middle" fill="#62bdae" stroke="#62bdae" stroke-width="0.3" font-size="13.6">18</text><text x="1081.7" y="580.6" textLength="110.6" lengthAdjust="spacing">Въездная группа</text><text x="1069" y="598.3" text-anchor="middle" fill="#62bdae" stroke="#62bdae" stroke-width="0.3" font-size="13.6">19</text><text x="1081.7" y="598.3" textLength="155" lengthAdjust="spacing">Променадный бульвар</text><text x="1069" y="618.6" text-anchor="middle" fill="#62bdae" stroke="#62bdae" stroke-width="0.3" font-size="13.6">20</text><text x="1081.7" y="618.6" textLength="202.7" lengthAdjust="spacing">Корты для игры в падл теннис</text><text x="1069" y="636.6" text-anchor="middle" fill="#62bdae" stroke="#62bdae" stroke-width="0.3" font-size="13.6">21</text><text x="1081.7" y="636.6" textLength="231.9" lengthAdjust="spacing">Корты для игры в большой теннис</text><text x="1069" y="654.6" text-anchor="middle" fill="#62bdae" stroke="#62bdae" stroke-width="0.3" font-size="13.6">22</text><text x="1081.7" y="654.6" textLength="132.9" lengthAdjust="spacing">Озеро с фонтанами</text><text x="1069" y="674.9" text-anchor="middle" fill="#62bdae" stroke="#62bdae" stroke-width="0.3" font-size="13.6">23</text><text x="1081.7" y="674.9" textLength="210.6" lengthAdjust="spacing">Детский сад и начальная школа</text><text x="1069" y="694.6" text-anchor="middle" fill="#62bdae" stroke="#62bdae" stroke-width="0.3" font-size="13.6">24</text><text x="1081.7" y="694.6" textLength="205.8" lengthAdjust="spacing">Детская спортивная площадка</text><text x="1069" y="714.6" text-anchor="middle" fill="#62bdae" stroke="#62bdae" stroke-width="0.3" font-size="13.6">25</text><text x="1081.7" y="714.6" textLength="235.2" lengthAdjust="spacing">Зона отдыха с озером и бассейном</text><text x="1069" y="734.6" text-anchor="middle" fill="#62bdae" stroke="#62bdae" stroke-width="0.3" font-size="13.6">26</text><text x="1081.7" y="734.6" textLength="102.9" lengthAdjust="spacing">Фруктовый сад</text><text x="1069" y="754.6" text-anchor="middle" fill="#62bdae" stroke="#62bdae" stroke-width="0.3" font-size="13.6">27</text><text x="1081.7" y="754.6" textLength="51" lengthAdjust="spacing">Фонтан</text><text x="1069" y="774.6" text-anchor="middle" fill="#62bdae" stroke="#62bdae" stroke-width="0.3" font-size="13.6">28</text><text x="1081.7" y="774.6" textLength="161" lengthAdjust="spacing">Выход к озеру с пляжем</text><text x="1069" y="794.6" text-anchor="middle" fill="#62bdae" stroke="#62bdae" stroke-width="0.3" font-size="13.6">29</text><text x="1081.7" y="794.6" textLength="91.7" lengthAdjust="spacing">Велодорожка</text></g>
<path d="M1338.4 32.3 L1309.4 82.4 L1347.3 126.6 L1296.9 97.1 L1253.4 135.2 L1282.6 84.7 L1244.7 41.3 L1295.1 70.4Z M1296 83.3 L1338.4 32.3 M1296 83.3 L1244.7 41.3 M1296 83.3 L1253.4 135.2 M1296 83.3 L1347.3 126.6 M1296 83.3 L1295.1 70.4 M1296 83.3 L1309.4 82.4 M1296 83.3 L1296.9 97.1 M1296 83.3 L1282.6 84.7" fill="none" stroke="#4f5254" stroke-width="1.2" stroke-linejoin="miter"/><path d="M-3.4 4.2 V-4.2 L3.4 4.2 V-4.2 M-5.2 4.2 H-1.6 M-5.2 -4.2 H-2.6 M1.6 -4.2 H5.2" transform="translate(1347 24) rotate(40) scale(1.05)" fill="none" stroke="#55585a" stroke-width="1.75" stroke-linejoin="miter"/><path d="M-5.6 -4.2 L-2.9 4.2 L0 -3.4 L2.9 4.2 L5.6 -4.2 M-7.2 -4.2 H-3.8 M3.8 -4.2 H7.2 M-1.5 -4.2 H1.5" transform="translate(1235.7 33.2) rotate(40) scale(1.05)" fill="none" stroke="#55585a" stroke-width="1.75" stroke-linejoin="miter"/><path d="M3 -1.9 V-4.4 M3 -2.6 C2.6 -5 -3.2 -5.2 -3.2 -2.2 C-3.2 1 3.3 -0.8 3.3 2.4 C3.3 5.2 -2.8 5 -3.1 2.4 M-3.1 1.8 V4.4" transform="translate(1245 145) rotate(40) scale(1.05)" fill="none" stroke="#55585a" stroke-width="1.75" stroke-linejoin="miter"/><path d="M-2.6 -4.2 V4.2 M-4.2 -4.2 H3.4 V-1.8 M-2.6 0 H1.2 M1.2 -1.5 V1.5 M-4.2 4.2 H3.4 V1.8" transform="translate(1355 133.4) rotate(40) scale(1.05)" fill="none" stroke="#55585a" stroke-width="1.75" stroke-linejoin="miter"/>
</svg></body></html>
